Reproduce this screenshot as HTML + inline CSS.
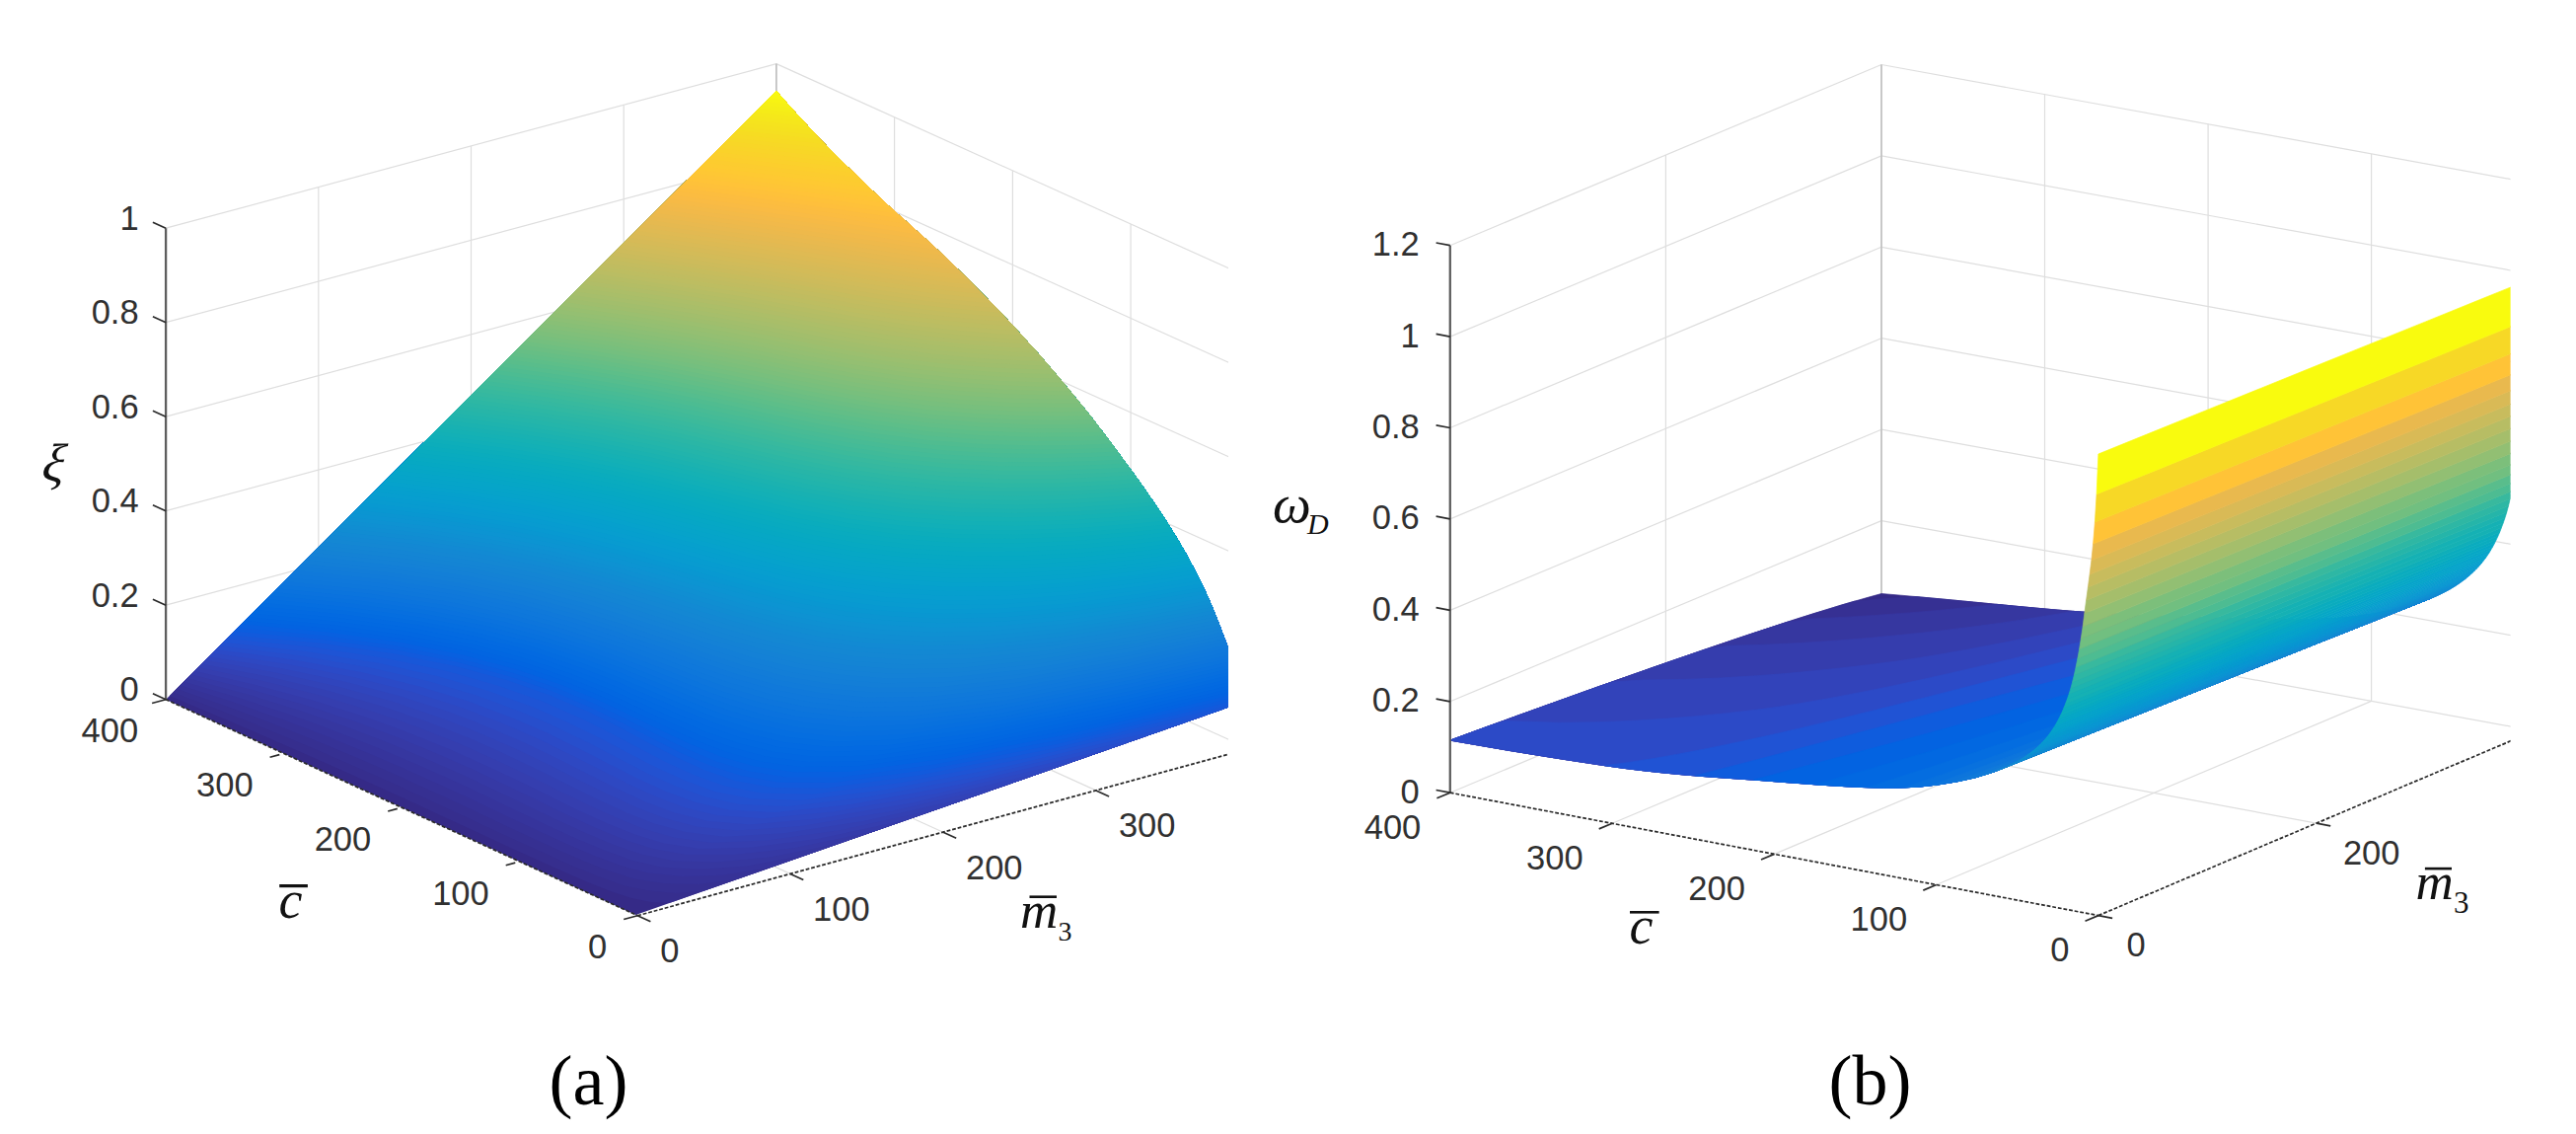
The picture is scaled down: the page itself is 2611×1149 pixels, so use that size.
<!DOCTYPE html>
<html lang="en"><head><meta charset="utf-8"><title>Figure</title>
<style>html,body{margin:0;padding:0;background:#fff}svg{display:block}</style></head>
<body>
<svg width="2611" height="1149" viewBox="0 0 2611 1149">
<rect width="2611" height="1149" fill="#fff"/>
<defs><clipPath id="ca"><rect x="0" y="0" width="1245" height="1149"/></clipPath><clipPath id="cb"><rect x="1300" y="0" width="1244.6" height="1149"/></clipPath></defs>
<g clip-path="url(#ca)">
<g stroke="#dedede" stroke-width="1.2" fill="none">
<path d="M168.1 613.2L786.9 446.6"/>
<path d="M786.9 446.6L1265.8 663.1"/>
<path d="M168.1 517.7L786.9 351.1"/>
<path d="M786.9 351.1L1265.8 567.6"/>
<path d="M168.1 422.2L786.9 255.6"/>
<path d="M786.9 255.6L1265.8 472.1"/>
<path d="M168.1 326.7L786.9 160.1"/>
<path d="M786.9 160.1L1265.8 376.6"/>
<path d="M168.1 231.2L786.9 64.6"/>
<path d="M786.9 64.6L1265.8 281.1"/>
<path d="M322.8 667.1L322.8 189.6"/>
<path d="M322.8 667.1L801.1 885.4"/>
<path d="M477.5 625.4L477.5 147.9"/>
<path d="M477.5 625.4L956 843.2"/>
<path d="M632.2 583.8L632.2 106.2"/>
<path d="M632.2 583.8L1110.9 800.9"/>
<path d="M786.9 542.1L1265.8 758.6"/>
<path d="M1146.1 704.5L1146.1 227"/>
<path d="M526.7 873L1146.1 704.5"/>
<path d="M1026.4 650.4L1026.4 172.9"/>
<path d="M407.2 818.2L1026.4 650.4"/>
<path d="M906.6 596.2L906.6 118.7"/>
<path d="M287.6 763.5L906.6 596.2"/>
<path d="M168.1 708.7L786.9 542.1"/>
</g>
<line x1="786.9" y1="542.1" x2="786.9" y2="64.6" stroke="#c2c2c2" stroke-width="1.8"/>
<clipPath id="oa"><polygon points="644.4,926.9 168.1,708.7 786.9,92.1 793.8,99.9 800.7,107.7 807.6,115.5 814.6,123.1 821.5,130.5 828.4,137.9 835.3,145 842.2,152.1 849.1,159 856,165.9 863,172.6 869.9,179.3 876.8,185.9 883.7,192.5 890.6,199 897.5,205.4 904.4,211.7 911.4,217.9 918.3,224.1 925.2,230.2 932.1,236.4 939,242.6 945.9,248.9 952.8,255.3 959.8,261.9 966.7,268.6 973.6,275.3 980.5,282.1 987.4,289 994.3,296 1001.3,303.1 1008.2,310.2 1015.1,317.5 1022,324.8 1028.9,332.2 1035.8,339.7 1042.7,347.4 1049.7,355.1 1056.6,363 1063.5,371 1070.4,379.1 1077.3,387.2 1084.2,395.5 1091.1,403.9 1098.1,412.5 1105,421.1 1111.9,430 1118.8,438.9 1125.7,448.1 1132.6,457.3 1139.5,466.7 1146.5,476.2 1153.4,485.8 1160.3,495.5 1167.2,505.5 1174.1,515.6 1181,526.1 1187.9,536.9 1194.9,548.3 1201.8,560.3 1208.7,572.9 1215.6,586.3 1222.5,600.6 1229.4,615.9 1236.3,633.4 1243.3,651.9 1250.2,668.2 1257.1,687.4 1264,710.2"/></clipPath>
<polygon points="644.4,926.9 168.1,708.7 786.9,92.1 793.8,99.9 800.7,107.7 807.6,115.5 814.6,123.1 821.5,130.5 828.4,137.9 835.3,145 842.2,152.1 849.1,159 856,165.9 863,172.6 869.9,179.3 876.8,185.9 883.7,192.5 890.6,199 897.5,205.4 904.4,211.7 911.4,217.9 918.3,224.1 925.2,230.2 932.1,236.4 939,242.6 945.9,248.9 952.8,255.3 959.8,261.9 966.7,268.6 973.6,275.3 980.5,282.1 987.4,289 994.3,296 1001.3,303.1 1008.2,310.2 1015.1,317.5 1022,324.8 1028.9,332.2 1035.8,339.7 1042.7,347.4 1049.7,355.1 1056.6,363 1063.5,371 1070.4,379.1 1077.3,387.2 1084.2,395.5 1091.1,403.9 1098.1,412.5 1105,421.1 1111.9,430 1118.8,438.9 1125.7,448.1 1132.6,457.3 1139.5,466.7 1146.5,476.2 1153.4,485.8 1160.3,495.5 1167.2,505.5 1174.1,515.6 1181,526.1 1187.9,536.9 1194.9,548.3 1201.8,560.3 1208.7,572.9 1215.6,586.3 1222.5,600.6 1229.4,615.9 1236.3,633.4 1243.3,651.9 1250.2,668.2 1257.1,687.4 1264,710.2" fill="#352a87"/>
<g clip-path="url(#oa)">
<polygon points="111.7,705.1 111.7,0 1400,0 1400,914.8 678.9,914.8 660.9,914.3 640.4,909.9 618.6,903 595.9,894 571.4,883.3 545,871.4 516.5,858.4 486.1,844.3 453.8,829.4 419.4,813.6 383.2,797.1 345,779.8 304.8,762 262.5,743.5 218.2,724.5 171.7,705.1" fill="#362e8e"/>
<polygon points="115.4,701.4 115.4,0 1400,0 1400,902.8 713.4,902.8 684.8,905.1 657.5,902.6 631.4,896.9 606.9,888.3 581.6,877.9 555,866.1 526.5,853 496.2,839 464,824 429.8,808.2 393.5,791.6 354.9,774.5 314,756.8 270.5,738.7 224.4,720.2 175.4,701.4" fill="#363092"/>
<polygon points="119,697.8 119,0 1400,0 1400,890.7 747.9,890.7 708.7,895.9 674.6,895.3 644.3,890.7 617.9,882.7 591.9,872.5 564.9,860.7 536.5,847.7 506.3,833.6 474.3,818.5 440.2,802.7 403.8,786.2 364.9,769.1 323.2,751.7 278.5,733.9 230.5,715.9 179,697.8" fill="#363297"/>
<polygon points="122.7,694.2 122.7,0 1400,0 1400,878.6 782.4,878.6 732.6,886.8 691.7,888 657.1,884.6 628.9,877 602.1,867 574.9,855.3 546.5,842.3 516.5,828.2 484.6,813.1 450.6,797.2 414.1,780.8 374.8,763.8 332.4,746.5 286.5,729.1 236.7,711.6 182.7,694.2" fill="#36349c"/>
<polygon points="126.3,690.6 126.3,0 1400,0 1400,866.6 816.9,866.6 756.6,877.6 708.8,880.7 670,878.4 639.9,871.4 612.3,861.6 584.9,850 556.4,837 526.6,822.8 494.9,807.6 461,791.8 424.4,775.3 384.8,758.5 341.6,741.4 294.5,724.3 242.8,707.3 186.3,690.6" fill="#3637a0"/>
<polygon points="129.9,686.9 129.9,0 1400,0 1400,854.5 851.3,854.5 780.5,868.4 725.9,873.4 682.8,872.3 651,865.7 622.5,856.2 594.8,844.6 566.4,831.6 536.7,817.4 505.2,802.2 471.4,786.3 434.7,769.9 394.7,753.1 350.9,736.3 302.4,719.5 249,703 189.9,686.9" fill="#3639a5"/>
<polygon points="133.6,683.3 133.6,0 1400,0 1400,842.5 885.8,842.5 804.4,859.3 742.9,866.1 695.7,866.1 662,860.1 632.8,850.8 604.8,839.3 576.4,826.2 546.8,812 515.5,796.8 481.8,780.8 445,764.4 404.7,747.8 360.1,731.1 310.4,714.7 255.1,698.7 193.6,683.3" fill="#353baa"/>
<polygon points="137.2,679.7 137.2,0 1400,0 1400,830.4 920.3,830.4 828.3,850.1 760,858.8 708.6,860 673,854.4 643,845.3 614.8,833.9 586.3,820.9 556.9,806.6 525.8,791.3 492.1,775.4 455.4,759 414.6,742.5 369.3,726 318.4,709.9 261.3,694.4 197.2,679.7" fill="#353eaf"/>
<polygon points="140.9,676.1 140.9,0 1400,0 1400,818.4 954.8,818.4 852.3,840.9 777.1,851.5 721.4,853.8 684,848.8 653.2,839.9 624.7,828.5 596.3,815.5 567,801.2 536,785.9 502.5,769.9 465.7,753.6 424.6,737.1 378.5,720.9 326.4,705.1 267.4,690.1 200.9,676.1" fill="#3340b3"/>
<polygon points="144.5,672.4 144.5,0 1400,0 1400,806.3 989.3,806.3 876.2,831.7 794.2,844.2 734.3,847.7 695,843.1 663.4,834.5 634.7,823.2 606.3,810.2 577.1,795.8 546.3,780.4 512.9,764.4 476,748.1 434.6,731.8 387.7,715.7 334.4,700.3 273.6,685.8 204.5,672.4" fill="#3243b8"/>
<polygon points="148.1,668.8 148.1,0 1400,0 1400,794.2 1023.8,794.2 900.1,822.6 811.3,836.9 747.1,841.5 706,837.5 673.7,829 644.7,817.8 616.3,804.8 587.2,790.4 556.6,775 523.3,759 486.3,742.7 444.5,726.4 396.9,710.6 342.4,695.5 279.7,681.5 208.1,668.8" fill="#3045bd"/>
<polygon points="151.8,665.2 151.8,0 1400,0 1400,782.2 1058.3,782.2 924,813.4 828.4,829.6 760,835.4 717,831.8 683.9,823.6 654.6,812.5 626.2,799.5 597.4,785 566.9,769.6 533.7,753.5 496.6,737.2 454.5,721.1 406.1,705.4 350.3,690.7 285.9,677.2 211.8,665.2" fill="#2e48c2"/>
<polygon points="155.4,661.5 155.4,0 1400,0 1400,770.1 1092.8,770.1 947.9,804.2 845.4,822.3 772.8,829.2 728,826.2 694.1,818.2 664.6,807.1 636.2,794.1 607.5,779.6 577.2,764.1 544.1,748.1 506.9,731.8 464.4,715.8 415.4,700.3 358.3,685.9 292.1,672.9 215.4,661.5" fill="#2b4ac7"/>
<polygon points="159.1,657.9 159.1,0 1400,0 1400,758.1 1127.3,758.1 971.9,795 862.5,815 785.7,823.1 739.1,820.5 704.3,812.7 674.6,801.8 646.2,788.7 617.6,774.2 587.5,758.7 554.5,742.6 517.2,726.4 474.4,710.4 424.6,695.2 366.3,681.1 298.2,668.5 219.1,657.9" fill="#274ecc"/>
<polygon points="162.7,654.3 162.7,0 1400,0 1400,746 1161.7,746 995.8,785.9 879.6,807.6 798.5,816.9 750.1,814.9 714.5,807.3 684.5,796.4 656.1,783.4 627.7,768.8 597.8,753.3 564.8,737.1 527.5,720.9 484.3,705.1 433.8,690 374.3,676.3 304.4,664.2 222.7,654.3" fill="#2351d0"/>
<polygon points="166.3,650.7 166.3,0 1400,0 1400,733.9 1196.2,733.9 1019.7,776.7 896.7,800.3 811.4,810.8 761.1,809.2 724.8,801.9 694.5,791 666.1,778 637.8,763.4 608.1,747.8 575.2,731.7 537.8,715.5 494.3,699.7 443,684.9 382.3,671.5 310.5,659.9 226.3,650.7" fill="#1e54d5"/>
<polygon points="170,647 170,0 1400,0 1400,721.9 1230.7,721.9 1043.6,767.5 913.8,793 824.2,804.6 772.1,803.6 735,796.4 704.5,785.7 676.1,772.7 647.9,758 618.3,742.4 585.6,726.2 548.1,710 504.2,694.4 452.2,679.8 390.2,666.7 316.7,655.6 230,647" fill="#1857d8"/>
<polygon points="173.6,643.4 173.6,0 1400,0 1400,710.1 1263.9,710.1 1066.5,758.6 930.4,785.8 836.8,798.5 782.9,798 745,791 714.2,780.3 685.8,767.3 657.8,752.7 628.4,737 595.7,720.8 558.2,704.7 513.9,689.1 461.2,674.7 398,661.9 322.7,651.3 233.6,643.4" fill="#125adc"/>
<polygon points="177.3,639.8 177.3,0 1400,0 1400,707 1262.9,707 1072,753.7 939.1,780 844.8,792.9 790,792.7 751.2,786.1 719.5,775.6 690.4,762.9 661.8,748.4 632,732.9 599,716.9 561.2,700.8 516.9,685.4 464.2,671 401.1,658.3 326,647.7 237.3,639.8" fill="#0c5dde"/>
<polygon points="180.9,636.2 180.9,0 1400,0 1400,703.9 1262,703.9 1081,747.9 948.7,774.2 853.4,787.4 797.4,787.5 757.6,781.1 725.1,771 695.2,758.5 666,744.2 635.7,728.9 602.4,713 564.4,697.1 519.9,681.7 467.2,667.4 404.2,654.7 329.3,644.1 240.9,636.2" fill="#0860e0"/>
<polygon points="184.5,632.5 184.5,0 1400,0 1400,700.9 1261.1,700.9 1090,742.2 958,768.4 861.9,781.8 804.7,782.3 763.9,776.3 730.6,766.4 700,754.1 670.2,740.1 639.4,724.9 605.8,709.1 567.5,693.3 522.9,678 470.2,663.8 407.3,651.1 332.6,640.6 244.5,632.5" fill="#0363e1"/>
<polygon points="188.2,628.9 188.2,0 1400,0 1400,697.9 1260.3,697.9 1098.8,736.6 966.7,762.8 870.2,776.3 812,777.1 770.2,771.4 736,761.8 704.7,749.7 674.4,735.9 643.2,720.8 609.2,705.2 570.7,689.5 525.9,674.3 473.2,660.1 410.4,647.5 335.9,637 248.2,628.9" fill="#0265e1"/>
<polygon points="191.8,625.3 191.8,0 1400,0 1400,694.8 1259.4,694.8 1107.1,731 974.7,757.3 878.3,770.9 819.1,772 776.4,766.5 741.4,757.1 709.4,745.3 678.5,731.7 646.8,716.8 612.5,701.3 573.8,685.8 529,670.6 476.2,656.5 413.5,643.9 339.2,633.4 251.8,625.3" fill="#0267e1"/>
<polygon points="195.5,621.6 195.5,0 1400,0 1400,691.8 1258.4,691.8 1114.8,725.6 982.2,752 886.1,765.5 826,766.8 782.5,761.6 746.7,752.5 714.1,740.9 682.6,727.5 650.5,712.8 615.9,697.4 576.9,682 532,666.9 479.2,652.9 416.6,640.3 342.5,629.8 255.5,621.6" fill="#0269e1"/>
<polygon points="199.1,618 199.1,0 1400,0 1400,688.7 1257.5,688.7 1122,720.3 989.1,746.8 893.6,760.2 832.8,761.7 788.5,756.8 752,747.9 718.7,736.5 686.7,723.3 654.1,708.8 619.2,693.5 580,678.2 534.9,663.3 482.2,649.2 419.6,636.7 345.8,626.2 259.1,618" fill="#036ae1"/>
<polygon points="202.7,614.4 202.7,0 1400,0 1400,685.6 1256.5,685.6 1128.7,715.1 995.5,741.7 900.8,754.9 839.4,756.7 794.4,751.9 757.1,743.3 723.2,732.2 690.7,719.1 657.7,704.7 622.4,689.6 583.1,674.4 537.9,659.5 485.1,645.6 422.7,633.1 349,622.6 262.7,614.4" fill="#046ce0"/>
<polygon points="206.4,610.8 206.4,0 1400,0 1400,682.5 1255.4,682.5 1134.8,710 1001.3,736.7 907.8,749.6 845.8,751.6 800.1,747.1 762.2,738.7 727.6,727.8 694.6,714.9 661.3,700.7 625.7,685.7 586.2,670.6 540.9,655.8 488.1,641.9 425.8,629.5 352.3,619 266.4,610.8" fill="#056ee0"/>
<polygon points="210,607.1 210,0 1400,0 1400,679.3 1254.4,679.3 1140.5,705.1 1006.8,731.8 914.4,744.5 852,746.6 805.8,742.3 767.1,734.1 732,723.4 698.5,710.7 664.8,696.6 628.9,681.8 589.2,666.8 543.8,652.1 491,638.3 428.8,625.9 355.6,615.4 270,607.1" fill="#076fdf"/>
<polygon points="213.7,603.5 213.7,0 1400,0 1400,676.2 1253.2,676.2 1145.8,700.2 1011.9,727 920.8,739.3 858.1,741.5 811.2,737.5 772,729.5 736.3,719 702.3,706.4 668.2,692.5 632.1,677.9 592.2,663 546.7,648.4 494,634.6 431.9,622.3 358.9,611.8 273.7,603.5" fill="#0871de"/>
<polygon points="217.3,599.9 217.3,0 1400,0 1400,673 1252,673 1150.6,695.4 1016.7,722.3 926.8,734.2 863.9,736.6 816.6,732.6 776.8,724.9 740.5,714.6 706.1,702.2 671.6,688.5 635.3,673.9 595.2,659.2 549.6,644.7 496.9,631 434.9,618.6 362.1,608.2 277.3,599.9" fill="#0a72de"/>
<polygon points="220.9,596.3 220.9,0 1400,0 1400,669.8 1250.8,669.8 1145.8,692.6 1007.4,719.8 918.3,730.3 855.8,731.1 807.8,725.7 766.4,716.5 728.3,704.7 691.4,690.9 653.3,675.8 612,660.2 565.3,644.7 511,629.9 446.7,616.6 370.6,605.2 280.9,596.3" fill="#0b74dd"/>
<polygon points="224.6,592.6 224.6,0 1400,0 1400,666.6 1249.5,666.6 1147.1,688.7 1012,715 923.8,725.3 861.2,726.2 812.7,720.9 770.7,712 732.1,700.4 694.9,686.7 656.5,671.8 615,656.4 568.1,641 513.9,626.2 449.7,612.9 373.8,601.6 284.6,592.6" fill="#0d75dc"/>
<polygon points="228.2,589 228.2,0 1400,0 1400,663.3 1248.2,663.3 1147,685.2 1016.2,710.3 929,720.4 866.3,721.3 817.5,716.2 775,707.5 735.9,696 698.3,682.5 659.6,667.8 617.9,652.5 571,637.2 516.7,622.5 452.7,609.3 377.1,598 288.2,589" fill="#0e77db"/>
<polygon points="231.9,585.4 231.9,0 1400,0 1400,660 1246.8,660 1145.7,681.9 1020.1,705.6 934,715.4 871.4,716.4 822.1,711.5 779.1,702.9 739.6,691.7 701.6,678.4 662.7,663.8 620.8,648.6 573.8,633.4 519.6,618.8 455.7,605.6 380.3,594.3 291.9,585.4" fill="#0f78db"/>
<polygon points="235.5,581.7 235.5,0 1400,0 1400,656.7 1245.4,656.7 1143.5,678.8 1023.5,701 938.6,710.6 876.2,711.5 826.6,706.8 783.1,698.4 743.2,687.3 704.9,674.2 665.7,659.8 623.7,644.7 576.5,629.6 522.4,615.1 458.6,602 383.5,590.7 295.5,581.7" fill="#1079da"/>
<polygon points="239.1,578.1 239.1,0 1400,0 1400,653.4 1243.9,653.4 1141.1,675.7 1026.7,696.5 943.1,705.7 880.8,706.7 830.9,702.1 787.1,693.9 746.8,683 708.1,670 668.7,655.7 626.5,640.8 579.3,625.8 525.2,611.4 461.6,598.3 386.7,587.1 299.1,578.1" fill="#117bd9"/>
<polygon points="242.8,574.5 242.8,0 1400,0 1400,650.2 1242.5,650.2 1140.6,672.3 1030.6,691.8 948,700.9 885.7,701.8 835.5,697.4 791.2,689.4 750.5,678.7 711.5,665.9 671.8,651.7 629.4,636.9 582.1,622 528,607.7 464.5,594.7 390,583.5 302.8,574.5" fill="#127cd8"/>
<polygon points="246.4,570.9 246.4,0 1400,0 1400,646.9 1241.3,646.9 1141.4,668.5 1035,687.1 953.1,696 890.8,697 840.1,692.7 795.3,684.9 754.3,674.4 714.9,661.7 674.9,647.7 632.3,633 585,618.3 530.9,604 467.5,591.1 393.2,579.9 306.4,570.9" fill="#137ed7"/>
<polygon points="250.1,567.2 250.1,0 1400,0 1400,643.8 1240.1,643.8 1143.2,664.5 1039.6,682.4 958.3,691.1 896,692.2 844.8,688.1 799.6,680.5 758.1,670.1 718.3,657.6 678.1,643.8 635.3,629.2 587.9,614.5 533.8,600.4 470.5,587.5 396.4,576.3 310.1,567.2" fill="#137fd7"/>
<polygon points="253.7,563.6 253.7,0 1400,0 1400,640.6 1238.9,640.6 1145.5,660.4 1044.4,677.7 963.6,686.3 901.1,687.5 849.6,683.5 803.8,676.1 761.9,665.9 721.8,653.5 681.3,639.8 638.3,625.4 590.7,610.8 536.7,596.7 473.5,583.8 399.7,572.7 313.7,563.6" fill="#1481d6"/>
<polygon points="257.3,560 257.3,0 1400,0 1400,637.4 1237.8,637.4 1148.2,656.2 1049.1,672.9 968.8,681.5 906.2,682.7 854.3,678.9 808,671.7 765.7,661.6 725.2,649.4 684.4,635.9 641.3,621.5 593.6,607.1 539.6,593 476.6,580.2 402.9,569.1 317.3,560" fill="#1482d5"/>
<polygon points="261,556.4 261,0 1400,0 1400,634.3 1236.6,634.3 1151.1,652 1053.7,668.2 974,676.7 911.3,678 858.9,674.3 812.2,667.2 769.5,657.4 728.7,645.3 687.6,631.9 644.3,617.7 596.5,603.3 542.5,589.4 479.6,576.6 406.2,565.5 321,556.4" fill="#1484d4"/>
<polygon points="264.6,552.7 264.6,0 1400,0 1400,631.1 1235.5,631.1 1153.9,647.7 1058.2,663.5 979,671.9 916.3,673.2 863.5,669.7 816.4,662.8 773.2,653.1 732.1,641.3 690.8,628 647.2,613.9 599.4,599.6 545.4,585.7 482.6,573 409.4,561.8 324.6,552.7" fill="#1485d4"/>
<polygon points="268.3,549.1 268.3,0 1400,0 1400,627.9 1234.3,627.9 1156.4,643.5 1062.5,658.9 983.9,667.1 921.1,668.5 868,665.2 820.4,658.4 776.9,648.9 735.5,637.2 693.9,624 650.2,610 602.2,595.8 548.2,582 485.6,569.3 412.7,558.2 328.3,549.1" fill="#1487d3"/>
<polygon points="271.9,545.5 271.9,0 1400,0 1400,624.7 1233,624.7 1158.7,639.4 1066.6,654.3 988.6,662.3 925.8,663.8 872.4,660.6 824.4,654 780.6,644.6 738.8,633.1 697,620 653.1,606.2 605.1,592.1 551.1,578.4 488.6,565.7 415.9,554.6 331.9,545.5" fill="#1388d3"/>
<polygon points="275.5,541.8 275.5,0 1400,0 1400,621.5 1231.8,621.5 1160.6,635.3 1070.3,649.7 993.1,657.6 930.4,659.1 876.6,656 828.3,649.6 784.1,640.4 742.1,629 700,616.1 656,602.3 607.9,588.3 554,574.7 491.5,562.1 419.1,551 335.5,541.8" fill="#128ad3"/>
<polygon points="279.2,538.2 279.2,0 1400,0 1400,618.2 1230.4,618.2 1162,631.3 1073.6,645.3 997.3,652.9 934.7,654.4 880.7,651.5 832.1,645.2 787.6,636.1 745.3,624.8 703,612.1 658.8,598.4 610.7,584.6 556.8,571 494.5,558.4 422.4,547.4 339.2,538.2" fill="#118cd2"/>
<polygon points="282.8,534.6 282.8,0 1400,0 1400,614.9 1229,614.9 1162.9,627.4 1076.6,640.8 1001.3,648.3 938.8,649.8 884.6,646.9 835.8,640.8 791,631.8 748.4,620.7 705.9,608.1 661.6,594.6 613.4,580.8 559.6,567.3 497.4,554.8 425.6,543.8 342.8,534.6" fill="#108ed2"/>
<polygon points="286.5,531 286.5,0 1400,0 1400,611.6 1227.5,611.6 1163.7,623.5 1079.4,636.4 1005.1,643.6 942.8,645.1 888.5,642.4 839.3,636.4 794.3,627.6 751.5,616.6 708.8,604.1 664.4,590.7 616.2,577 562.4,563.6 500.4,551.2 428.8,540.2 346.5,531" fill="#0f90d2"/>
<polygon points="290.1,527.3 290.1,0 1400,0 1400,608.3 1226,608.3 1164.4,619.6 1082.1,632 1008.7,639 946.7,640.5 892.2,637.9 842.8,632 797.6,623.3 754.5,612.5 711.7,600.1 667.1,586.8 618.9,573.2 565.2,559.9 503.3,547.5 432,536.6 350.1,527.3" fill="#0e92d2"/>
<polygon points="293.7,523.7 293.7,0 1400,0 1400,604.9 1224.5,604.9 1165,615.7 1084.6,627.6 1012.2,634.4 950.5,635.9 895.8,633.3 846.3,627.6 800.8,619 757.5,608.3 714.5,596.1 669.9,582.9 621.6,569.4 567.9,556.2 506.3,543.9 435.2,532.9 353.7,523.7" fill="#0c94d2"/>
<polygon points="297.4,520.1 297.4,0 1400,0 1400,601.6 1223,601.6 1165.4,611.8 1086.9,623.3 1015.6,629.8 954.1,631.3 899.4,628.8 849.6,623.2 804,614.8 760.5,604.2 717.3,592.1 672.6,579 624.3,565.6 570.7,552.5 509.2,540.2 438.4,529.3 357.4,520.1" fill="#0b95d1"/>
<polygon points="301,516.5 301,0 1400,0 1400,598.2 1221.4,598.2 1165.8,608 1089.1,618.9 1018.9,625.2 957.6,626.7 902.8,624.3 852.9,618.8 807.1,610.5 763.4,600 720.1,588.1 675.3,575.1 627,561.8 573.4,548.7 512.1,536.6 441.6,525.7 361,516.5" fill="#0997d1"/>
<polygon points="304.7,512.8 304.7,0 1400,0 1400,594.9 1219.8,594.9 1160.8,605 1080.8,615.8 1008.3,621.3 944.8,621.8 887.7,618.2 836,611.2 788.1,601.3 741.5,589.3 694.3,575.9 643.9,561.8 588.2,547.8 524.3,534.6 450.2,522.8 364.7,512.8" fill="#0899d1"/>
<polygon points="308.3,509.2 308.3,0 1400,0 1400,591.5 1218.1,591.5 1161.1,601.1 1082.9,611.4 1011.3,616.8 948.1,617.2 891,613.8 839.1,606.9 791,597.1 744.3,585.2 696.9,571.9 646.5,558 590.9,544 527.1,530.9 453.3,519.2 368.3,509.2" fill="#089bd0"/>
<polygon points="311.9,505.6 311.9,0 1400,0 1400,588.1 1216.5,588.1 1161.2,597.2 1084.9,607.1 1014.3,612.2 951.3,612.7 894.1,609.3 842.1,602.5 793.8,592.9 747,581.1 699.6,568 649.1,554.2 593.6,540.3 530,527.2 456.5,515.5 371.9,505.6" fill="#079cd0"/>
<polygon points="315.6,501.9 315.6,0 1400,0 1400,584.6 1214.8,584.6 1161.3,593.3 1086.8,602.8 1017.1,607.7 954.3,608.2 897.1,604.9 845,598.2 796.6,588.7 749.7,577.1 702.2,564 651.7,550.3 596.3,536.5 532.8,523.6 459.7,511.9 375.6,501.9" fill="#079ecf"/>
<polygon points="319.2,498.3 319.2,0 1400,0 1400,581.2 1213,581.2 1161.3,589.4 1088.6,598.4 1019.8,603.2 957.2,603.7 900,600.4 847.9,593.8 799.4,584.4 752.3,573 704.8,560.1 654.3,546.5 598.9,532.8 535.7,519.9 462.8,508.3 379.2,498.3" fill="#069fce"/>
<polygon points="322.9,494.7 322.9,0 1400,0 1400,577.8 1211.2,577.8 1161.1,585.5 1090.2,594.1 1022.3,598.7 960,599.1 902.9,596 850.7,589.5 802.1,580.2 755,568.9 707.3,556.1 656.8,542.6 601.6,529 538.5,516.2 466,504.6 382.9,494.7" fill="#06a0cd"/>
<polygon points="326.5,491.1 326.5,0 1400,0 1400,574.3 1209.4,574.3 1160.9,581.7 1091.7,589.8 1024.7,594.2 962.7,594.7 905.6,591.6 853.4,585.2 804.7,576 757.5,564.8 709.8,552.1 659.4,538.8 604.2,525.3 541.3,512.5 469.1,501 386.5,491.1" fill="#06a2cc"/>
<polygon points="330.1,487.4 330.1,0 1400,0 1400,570.8 1207.6,570.8 1160.6,577.8 1093.1,585.5 1026.9,589.7 965.3,590.2 908.3,587.1 856.1,580.8 807.3,571.8 760,560.7 712.3,548.2 661.9,534.9 606.8,521.5 544.1,508.8 472.3,497.4 390.1,487.4" fill="#06a3ca"/>
<polygon points="333.8,483.8 333.8,0 1400,0 1400,567.3 1205.7,567.3 1160.2,573.9 1094.3,581.2 1029,585.3 967.7,585.7 910.8,582.7 858.7,576.5 809.9,567.6 762.5,556.6 714.8,544.2 664.4,531 609.4,517.7 546.9,505.1 475.4,493.7 393.8,483.8" fill="#06a4c9"/>
<polygon points="337.4,480.2 337.4,0 1400,0 1400,563.8 1203.7,563.8 1159.7,570 1095.4,577 1031,580.8 970,581.2 913.3,578.3 861.2,572.2 812.3,563.3 765,552.5 717.2,540.2 666.8,527.2 612,514 549.7,501.5 478.5,490.1 397.4,480.2" fill="#06a5c8"/>
<polygon points="341.1,476.6 341.1,0 1400,0 1400,560.2 1201.8,560.2 1159.1,566.1 1096.4,572.7 1032.8,576.4 972.2,576.8 915.6,573.9 863.6,567.8 814.8,559.1 767.4,548.4 719.6,536.2 669.3,523.3 614.6,510.2 552.5,497.8 481.7,486.5 401.1,476.6" fill="#06a6c6"/>
<polygon points="344.7,472.9 344.7,0 1400,0 1400,556.7 1199.7,556.7 1158.5,562.2 1097.2,568.4 1034.5,572 974.2,572.3 917.9,569.5 866,563.5 817.1,554.9 769.7,544.3 721.9,532.2 671.7,519.4 617.1,506.4 555.3,494.1 484.8,482.8 404.7,472.9" fill="#06a7c5"/>
<polygon points="348.3,469.3 348.3,0 1400,0 1400,553.1 1197.7,553.1 1157.8,558.3 1097.9,564.2 1036,567.6 976.1,567.9 920.1,565.1 868.2,559.1 819.4,550.6 772,540.1 724.3,528.2 674.1,515.5 619.7,502.6 558,490.4 487.9,479.2 408.3,469.3" fill="#06a8c3"/>
<polygon points="352,465.7 352,0 1400,0 1400,549.5 1195.6,549.5 1157,554.4 1098.4,560 1037.3,563.2 977.9,563.5 922.1,560.7 870.4,554.8 821.6,546.4 774.3,536 726.5,524.2 676.4,511.6 622.2,498.8 560.8,486.7 491,475.5 412,465.7" fill="#07a9c2"/>
<polygon points="355.6,462 355.6,0 1400,0 1400,545.9 1193.4,545.9 1156,550.4 1098.8,555.7 1038.5,558.8 979.6,559.1 924.1,556.3 872.5,550.5 823.8,542.2 776.5,531.9 728.8,520.2 678.8,507.7 624.7,495 563.5,483 494.1,471.9 415.6,462" fill="#08aac0"/>
<polygon points="359.3,458.4 359.3,0 1400,0 1400,542.2 1191.2,542.2 1155,546.5 1099,551.5 1039.5,554.4 981.1,554.7 925.9,551.9 874.6,546.1 825.9,537.9 778.6,527.7 731,516.2 681.1,503.8 627.2,491.2 566.2,479.2 497.2,468.2 419.3,458.4" fill="#09abbf"/>
<polygon points="362.9,454.8 362.9,0 1400,0 1400,538.6 1189,538.6 1150,543 1090.1,547.9 1026.9,550.4 965.2,549.7 907.5,545.6 853.8,538.3 802.4,528.5 751.6,516.7 699,503.7 642.6,490.3 578.8,477.3 505.9,465.4 422.9,454.8" fill="#0aacbd"/>
<polygon points="366.5,451.2 366.5,0 1400,0 1400,534.9 1186.7,534.9 1148.8,539 1090.2,543.7 1027.7,546 966.5,545.3 909.2,541.2 855.7,534 804.5,524.3 753.7,512.6 701.2,499.8 644.9,486.4 581.4,473.6 509,461.7 426.5,451.2" fill="#0cadbb"/>
<polygon points="370.2,447.5 370.2,0 1400,0 1400,531.2 1184.3,531.2 1147.5,535 1090.1,539.4 1028.4,541.7 967.8,540.9 910.9,536.8 857.6,529.7 806.4,520 755.8,508.5 703.4,495.8 647.3,482.6 584.1,469.8 512,458 430.2,447.5" fill="#0eaeba"/>
<polygon points="373.8,443.9 373.8,0 1400,0 1400,527.4 1181.9,527.4 1146.1,531.1 1089.9,535.2 1028.9,537.3 968.9,536.5 912.4,532.4 859.3,525.4 808.3,515.8 757.8,504.4 705.6,491.9 649.7,478.8 586.7,466.1 515.1,454.4 433.8,443.9" fill="#11afb8"/>
<polygon points="377.5,440.3 377.5,0 1400,0 1400,523.7 1179.5,523.7 1144.7,527.1 1089.5,531 1029.4,533 970,532.1 913.9,528 861,521 810.2,511.6 759.8,500.3 707.7,487.9 652,474.9 589.3,462.4 518.1,450.7 437.5,440.3" fill="#13b0b6"/>
<polygon points="381.1,436.7 381.1,0 1400,0 1400,519.9 1177,519.9 1143.1,523.1 1089,526.8 1029.7,528.7 970.9,527.7 915.2,523.6 862.6,516.7 812,507.4 761.7,496.2 709.8,483.9 654.3,471 591.9,458.6 521.1,447 441.1,436.7" fill="#15b1b4"/>
<polygon points="384.7,433 384.7,0 1400,0 1400,516.1 1174.5,516.1 1141.4,519.1 1088.4,522.6 1029.8,524.3 971.7,523.3 916.5,519.3 864.2,512.4 813.7,503.2 763.6,492.1 711.8,479.9 656.6,467.2 594.5,454.9 524.2,443.4 444.7,433" fill="#18b1b2"/>
<polygon points="388.4,429.4 388.4,0 1400,0 1400,512.3 1171.9,512.3 1139.7,515.1 1087.6,518.4 1029.9,520 972.4,518.9 917.7,514.9 865.6,508.1 815.4,498.9 765.5,488 713.9,475.9 658.9,463.3 597.1,451.1 527.2,439.7 448.4,429.4" fill="#1bb2b0"/>
<polygon points="392,425.8 392,0 1400,0 1400,508.5 1169.3,508.5 1137.9,511.1 1086.8,514.2 1029.9,515.7 973.1,514.6 918.8,510.5 867.1,503.7 817,494.7 767.3,483.9 715.9,472 661.1,459.4 599.6,447.3 530.2,436 452,425.8" fill="#1eb3ae"/>
<polygon points="395.7,422.1 395.7,0 1400,0 1400,504.7 1166.6,504.7 1136,507.1 1085.8,510 1029.8,511.4 973.6,510.2 919.9,506.1 868.4,499.4 818.6,490.5 769.1,479.8 717.9,468 663.4,455.6 602.2,443.6 533.2,432.4 455.7,422.1" fill="#21b4ac"/>
<polygon points="399.3,418.5 399.3,0 1400,0 1400,500.8 1164,500.8 1134,503.1 1084.8,505.9 1029.6,507.1 974.1,505.8 920.9,501.7 869.7,495.1 820.2,486.2 770.8,475.7 719.9,464 665.6,451.7 604.7,439.8 536.2,428.7 459.3,418.5" fill="#24b5aa"/>
<polygon points="402.9,414.9 402.9,0 1400,0 1400,496.9 1161.3,496.9 1132,499.1 1083.6,501.7 1029.3,502.8 974.5,501.4 921.8,497.3 871,490.7 821.7,482 772.5,471.5 721.8,459.9 667.8,447.8 607.3,436.1 539.2,425 462.9,414.9" fill="#27b5a8"/>
<polygon points="406.6,411.3 406.6,0 1400,0 1400,493 1158.5,493 1126.4,495.3 1073.7,497.8 1015.3,498.3 957.3,495.9 901.4,490.5 847.6,482.3 794.7,471.9 740.8,459.9 683.9,446.9 620.3,434.2 548.2,422.2 466.6,411.3" fill="#2ab6a6"/>
<polygon points="410.2,407.6 410.2,0 1400,0 1400,489.1 1155.8,489.1 1124.3,491.3 1072.6,493.6 1015.1,494 957.7,491.5 902.4,486.1 848.9,478 796.3,467.7 742.7,455.8 686.1,443 622.8,430.4 551.1,418.5 470.2,407.6" fill="#2db7a4"/>
<polygon points="413.9,404 413.9,0 1400,0 1400,485.2 1153,485.2 1122.2,487.2 1071.4,489.4 1014.8,489.7 958.2,487.2 903.3,481.8 850.2,473.7 797.9,463.5 744.5,451.8 688.2,439.1 625.2,426.6 554,414.8 473.9,404" fill="#31b8a2"/>
<polygon points="417.5,400.4 417.5,0 1400,0 1400,481.3 1150.2,481.3 1120,483.2 1070.1,485.2 1014.5,485.3 958.6,482.8 904.1,477.4 851.4,469.4 799.4,459.3 746.2,447.7 690.2,435.2 627.6,422.8 557,411.1 477.5,400.4" fill="#35b8a0"/>
<polygon points="421.1,396.8 421.1,0 1400,0 1400,477.4 1147.3,477.4 1117.8,479.2 1068.9,481 1014.1,481 958.9,478.4 905,473 852.6,465.1 800.9,455.1 748,443.6 692.3,431.2 630.1,419 559.9,407.4 481.1,396.8" fill="#38b99e"/>
<polygon points="424.8,393.1 424.8,0 1400,0 1400,473.5 1144.5,473.5 1115.5,475.1 1067.5,476.8 1013.6,476.7 959.2,474 905.7,468.6 853.8,460.8 802.3,450.9 749.8,439.6 694.4,427.3 632.5,415.2 562.9,403.8 484.8,393.1" fill="#3cba9b"/>
<polygon points="428.4,389.5 428.4,0 1400,0 1400,469.5 1141.6,469.5 1113.2,471 1066.2,472.5 1013.2,472.3 959.4,469.6 906.5,464.3 854.9,456.5 803.8,446.7 751.5,435.5 696.4,423.4 634.9,411.4 565.8,400.1 488.4,389.5" fill="#40ba99"/>
<polygon points="432.1,385.9 432.1,0 1400,0 1400,465.6 1138.7,465.6 1110.9,467 1064.8,468.3 1012.7,468 959.6,465.2 907.2,459.9 856,452.2 805.2,442.6 753.2,431.4 698.4,419.5 637.3,407.6 568.7,396.4 492.1,385.9" fill="#44bb97"/>
<polygon points="435.7,382.2 435.7,0 1400,0 1400,461.6 1135.8,461.6 1108.6,462.9 1063.4,464.1 1012.1,463.6 959.7,460.8 907.8,455.5 857.1,447.9 806.6,438.4 754.9,427.4 700.4,415.5 639.7,403.8 571.6,392.7 495.7,382.2" fill="#48bb95"/>
<polygon points="439.3,378.6 439.3,0 1400,0 1400,457.6 1132.9,457.6 1106.3,458.8 1061.9,459.9 1011.5,459.3 959.8,456.4 908.4,451.2 858.1,443.6 807.9,434.2 756.6,423.3 702.4,411.6 642.1,400 574.6,389 499.3,378.6" fill="#4cbc92"/>
<polygon points="443,375 443,0 1400,0 1400,453.6 1129.9,453.6 1100.4,454.8 1051.6,455.6 997,454.3 941.2,450.4 886.2,443.7 832,434.4 777,423.3 719.6,410.8 655.8,398.3 583.9,386.3 503,375" fill="#50bc90"/>
<polygon points="446.6,371.4 446.6,0 1400,0 1400,449.6 1126.9,449.6 1098,450.7 1050.2,451.4 996.5,450 941.4,446 887,439.3 833.1,430.2 778.5,419.1 721.5,406.8 658.1,394.5 586.7,382.5 506.6,371.4" fill="#55bd8e"/>
<polygon points="450.3,367.7 450.3,0 1400,0 1400,445.6 1123.9,445.6 1095.6,446.6 1048.8,447.1 995.9,445.6 941.5,441.6 887.6,434.9 834.2,425.9 779.9,415 723.3,402.9 660.4,390.6 589.6,378.8 510.3,367.7" fill="#59bd8b"/>
<polygon points="453.9,364.1 453.9,0 1400,0 1400,441.6 1120.8,441.6 1093.2,442.4 1047.3,442.8 995.3,441.2 941.6,437.2 888.3,430.6 835.3,421.6 781.4,410.9 725.2,398.9 662.6,386.8 592.4,375.1 513.9,364.1" fill="#5dbe89"/>
<polygon points="457.5,360.5 457.5,0 1400,0 1400,437.5 1117.7,437.5 1090.7,438.3 1045.8,438.5 994.6,436.8 941.6,432.8 888.9,426.2 836.3,417.4 782.8,406.8 727,394.9 664.9,383 595.3,371.4 517.5,360.5" fill="#62be87"/>
<polygon points="461.2,356.9 461.2,0 1400,0 1400,433.5 1114.6,433.5 1088.2,434.1 1044.2,434.2 993.9,432.5 941.6,428.4 889.4,421.9 837.3,413.1 784.2,402.6 728.8,390.9 667.1,379.1 598.1,367.7 521.2,356.9" fill="#66be85"/>
<polygon points="464.8,353.2 464.8,0 1400,0 1400,429.4 1111.4,429.4 1085.6,430 1042.5,429.9 993.1,428.1 941.5,424 889.9,417.5 838.2,408.8 785.6,398.5 730.5,386.9 669.3,375.3 600.9,364 524.8,353.2" fill="#6bbe83"/>
<polygon points="468.5,349.6 468.5,0 1400,0 1400,425.3 1108.2,425.3 1083.1,425.8 1040.8,425.6 992.2,423.7 941.4,419.6 890.4,413.1 839.1,404.6 786.9,394.3 732.3,382.9 671.5,371.5 603.7,360.3 528.5,349.6" fill="#6fbf81"/>
<polygon points="472.1,346 472.1,0 1400,0 1400,421.2 1105,421.2 1080.4,421.6 1039.1,421.2 991.3,419.3 941.1,415.2 890.7,408.8 840,400.3 788.3,390.2 734,378.9 673.7,367.6 606.5,356.6 532.1,346" fill="#74bf7f"/>
<polygon points="475.7,342.3 475.7,0 1400,0 1400,417.1 1101.7,417.1 1077.7,417.3 1037.3,416.9 990.3,414.9 940.9,410.7 891.1,404.4 840.8,396 789.6,386 735.7,374.9 675.9,363.8 609.4,352.8 535.7,342.3" fill="#78bf7d"/>
<polygon points="479.4,338.7 479.4,0 1400,0 1400,412.9 1098.4,412.9 1071.5,413.1 1026.5,412.3 974.7,409.4 920.9,404 866.6,396.1 811.3,386 753.9,374.2 690.4,362.1 619.1,350.2 539.4,338.7" fill="#7cbf7b"/>
<polygon points="483,335.1 483,0 1400,0 1400,408.8 1095.1,408.8 1068.8,408.8 1024.7,407.9 973.8,405 920.8,399.6 867.1,391.7 812.3,381.8 755.5,370.2 692.4,358.2 621.8,346.5 543,335.1" fill="#80bf7a"/>
<polygon points="486.7,331.5 486.7,0 1400,0 1400,404.6 1091.7,404.6 1066,404.6 1022.8,403.5 972.8,400.6 920.6,395.2 867.5,387.4 813.3,377.5 757,366.1 694.4,354.3 624.5,342.7 546.7,331.5" fill="#84bf78"/>
<polygon points="490.3,327.8 490.3,0 1400,0 1400,400.4 1088.2,400.4 1063.2,400.3 1020.9,399.2 971.8,396.1 920.4,390.7 867.9,383 814.2,373.3 758.4,362 696.4,350.4 627.2,339 550.3,327.8" fill="#88bf76"/>
<polygon points="493.9,324.2 493.9,0 1400,0 1400,396.2 1084.8,396.2 1060.3,396 1018.9,394.8 970.7,391.7 920.1,386.3 868.2,378.7 815.2,369 759.9,357.9 698.4,346.5 629.9,335.2 553.9,324.2" fill="#8cbf75"/>
<polygon points="497.6,320.6 497.6,0 1400,0 1400,391.9 1081.2,391.9 1057.4,391.7 1016.8,390.4 969.5,387.2 919.7,381.8 868.5,374.3 816.1,364.8 761.3,353.8 700.4,342.6 632.6,331.5 557.6,320.6" fill="#90bf73"/>
<polygon points="501.2,316.9 501.2,0 1400,0 1400,387.6 1077.7,387.6 1054.3,387.3 1014.6,385.9 968.3,382.7 919.2,377.4 868.7,369.9 816.9,360.5 762.6,349.8 702.3,338.7 635.3,327.7 561.2,316.9" fill="#94bf72"/>
<polygon points="504.9,313.3 504.9,0 1400,0 1400,383.4 1074.1,383.4 1051.3,383 1012.4,381.5 967,378.3 918.8,372.9 868.9,365.5 817.7,356.3 764,345.7 704.2,334.8 637.9,324 564.9,313.3" fill="#97bf70"/>
<polygon points="508.5,309.7 508.5,0 1400,0 1400,379.1 1070.4,379.1 1044.5,378.5 1000.7,376.5 950.1,372.2 896.5,365.4 841.1,356.3 783.6,345.1 719.8,333.3 648.2,321.4 568.5,309.7" fill="#9bbf6f"/>
<polygon points="512.1,306.1 512.1,0 1400,0 1400,374.8 1066.7,374.8 1041.4,374.1 998.6,372 949,367.7 896.3,361 841.6,351.9 784.7,340.9 721.5,329.3 650.8,317.7 572.1,306.1" fill="#9fbe6d"/>
<polygon points="515.8,302.4 515.8,0 1400,0 1400,370.4 1063,370.4 1038.3,369.7 996.5,367.6 947.9,363.2 896,356.5 842,347.6 785.8,336.8 723.3,325.4 653.3,313.9 575.8,302.4" fill="#a2be6c"/>
<polygon points="519.4,298.8 519.4,0 1400,0 1400,366.1 1059.3,366.1 1035.2,365.3 994.4,363.1 946.7,358.7 895.6,352.1 842.4,343.2 786.9,332.6 725,321.4 655.9,310.1 579.4,298.8" fill="#a6be6b"/>
<polygon points="523.1,295.2 523.1,0 1400,0 1400,361.7 1055.5,361.7 1032,360.9 992.1,358.5 945.4,354.2 895.1,347.6 842.8,338.9 787.9,328.4 726.6,317.5 658.4,306.3 583.1,295.2" fill="#a9be69"/>
<polygon points="526.7,291.6 526.7,0 1400,0 1400,357.3 1051.6,357.3 1028.8,356.4 989.9,354 944,349.6 894.7,343.1 843.1,334.5 788.8,324.3 728.3,313.5 660.9,302.6 586.7,291.6" fill="#acbe68"/>
<polygon points="530.3,287.9 530.3,0 1400,0 1400,352.9 1047.7,352.9 1025.5,352 987.5,349.5 942.6,345.1 894.1,338.6 843.4,330.1 789.8,320.1 729.9,309.5 663.4,298.8 590.3,287.9" fill="#b0bd67"/>
<polygon points="534,284.3 534,0 1400,0 1400,348.5 1043.7,348.5 1022.1,347.5 985.1,344.9 941.1,340.5 893.5,334.1 843.6,325.8 790.7,315.9 731.5,305.6 665.9,295 594,284.3" fill="#b3bd65"/>
<polygon points="537.6,280.7 537.6,0 1400,0 1400,344 1039.7,344 1014.7,342.7 972.3,339.4 922.4,333.8 868.5,325.7 811.7,315.4 748.2,304.1 676.9,292.5 597.6,280.7" fill="#b6bd64"/>
<polygon points="541.3,277 541.3,0 1400,0 1400,339.5 1035.6,339.5 1011.4,338.2 970,334.8 921.1,329.3 868.2,321.3 812.3,311.1 749.6,300.1 679.2,288.7 601.3,277" fill="#babd63"/>
<polygon points="544.9,273.4 544.9,0 1400,0 1400,335 1031.5,335 1007.9,333.6 967.6,330.2 919.7,324.7 867.9,316.8 812.8,306.8 750.9,296 681.5,284.9 604.9,273.4" fill="#bdbd61"/>
<polygon points="548.5,269.8 548.5,0 1400,0 1400,330.5 1027.3,330.5 1004.4,329 965.1,325.6 918.3,320.1 867.5,312.3 813.2,302.5 752.1,292 683.9,281 608.5,269.8" fill="#c0bc60"/>
<polygon points="552.2,266.2 552.2,0 1400,0 1400,325.9 1023,325.9 1000.8,324.4 962.5,321 916.7,315.5 867,307.8 813.6,298.2 753.4,287.9 686.2,277.2 612.2,266.2" fill="#c3bc5f"/>
<polygon points="555.8,262.5 555.8,0 1400,0 1400,321.3 1018.7,321.3 997.1,319.7 959.8,316.3 915.1,310.8 866.5,303.2 813.9,293.9 754.5,283.9 688.4,273.4 615.8,262.5" fill="#c6bc5d"/>
<polygon points="559.5,258.9 559.5,0 1400,0 1400,316.7 1014.3,316.7 993.3,315.1 957,311.6 913.5,306.2 865.9,298.7 814.2,289.6 755.7,279.8 690.7,269.6 619.5,258.9" fill="#cabb5c"/>
<polygon points="563.1,255.3 563.1,0 1400,0 1400,312 1009.9,312 985.1,310 942.6,305.6 892.2,298.6 836.9,289.1 773.9,278.5 702.5,267.2 623.1,255.3" fill="#cdbb5b"/>
<polygon points="566.7,251.7 566.7,0 1400,0 1400,307.3 1005.4,307.3 981.3,305.3 940.1,300.9 890.9,294 836.7,284.7 774.7,274.3 704.5,263.3 626.7,251.7" fill="#d0bb5a"/>
<polygon points="570.4,248 570.4,0 1400,0 1400,302.6 1000.8,302.6 977.5,300.5 937.4,296.1 889.6,289.3 836.5,280.3 775.4,270.2 706.6,259.4 630.4,248" fill="#d3bb58"/>
<polygon points="574,244.4 574,0 1400,0 1400,297.9 996.2,297.9 973.6,295.8 934.7,291.4 888.2,284.6 836.1,275.8 776.2,266 708.6,255.5 634,244.4" fill="#d6ba57"/>
<polygon points="577.7,240.8 577.7,0 1400,0 1400,293.1 991.4,293.1 969.6,291 931.9,286.6 886.7,279.9 835.7,271.3 776.8,261.8 710.6,251.6 637.7,240.8" fill="#d9ba56"/>
<polygon points="581.3,237.1 581.3,0 1400,0 1400,288.3 986.7,288.3 965.6,286.2 929,281.8 885.2,275.2 835.2,266.9 777.4,257.7 712.6,247.7 641.3,237.1" fill="#dcba54"/>
<polygon points="584.9,233.5 584.9,0 1400,0 1400,283.4 981.8,283.4 961.5,281.3 926.1,277 883.6,270.5 834.6,262.4 778,253.5 714.6,243.8 644.9,233.5" fill="#dfba53"/>
<polygon points="588.6,229.9 588.6,0 1400,0 1400,278.6 976.9,278.6 952.3,275.9 910,270.2 858.8,261.9 797.7,252.3 727.3,241.5 648.6,229.9" fill="#e2b952"/>
<polygon points="592.2,226.3 592.2,0 1400,0 1400,273.7 971.9,273.7 948.2,271 907.5,265.4 857.5,257.3 797.7,248 728.9,237.6 652.2,226.3" fill="#e5b950"/>
<polygon points="595.9,222.6 595.9,0 1400,0 1400,268.7 966.8,268.7 944,266 904.8,260.5 856.1,252.7 797.7,243.6 730.6,233.6 655.9,222.6" fill="#e8b94f"/>
<polygon points="599.5,219 599.5,0 1400,0 1400,263.7 961.7,263.7 939.7,261.1 902.1,255.5 854.6,248 797.6,239.3 732.2,229.6 659.5,219" fill="#ebb94d"/>
<polygon points="603.1,215.4 603.1,0 1400,0 1400,258.7 956.4,258.7 935.5,256 899.2,250.6 853,243.4 797.4,235 733.7,225.7 663.1,215.4" fill="#eeb94b"/>
<polygon points="606.8,211.8 606.8,0 1400,0 1400,253.6 951.1,253.6 925,250.1 879.3,243 819.7,234 748.2,223.5 666.8,211.8" fill="#f1b94a"/>
<polygon points="610.4,208.1 610.4,0 1400,0 1400,248.5 945.5,248.5 920.7,244.9 876.5,238.1 818.6,229.5 749.3,219.5 670.4,208.1" fill="#f3ba48"/>
<polygon points="614.1,204.5 614.1,0 1400,0 1400,243.2 939.7,243.2 916,239.7 873.4,233.2 817.3,225 750.3,215.4 674.1,204.5" fill="#f6ba46"/>
<polygon points="617.7,200.9 617.7,0 1400,0 1400,237.9 933.8,237.9 911.2,234.5 870,228.3 815.9,220.4 751.2,211.3 677.7,200.9" fill="#f9bb44"/>
<polygon points="621.3,197.2 621.3,0 1400,0 1400,232.5 927.8,232.5 906.2,229.3 866.5,223.3 814.4,215.8 752.1,207.1 681.3,197.2" fill="#fbbc41"/>
<polygon points="625,193.6 625,0 1400,0 1400,227.1 921.7,227.1 901,224 862.8,218.4 812.8,211.3 752.9,203 685,193.6" fill="#fcbd3f"/>
<polygon points="628.6,190 628.6,0 1400,0 1400,221.7 915.6,221.7 887.9,217.6 836.4,210.3 768.9,200.9 688.6,190" fill="#febf3c"/>
<polygon points="632.3,186.4 632.3,0 1400,0 1400,216.4 909.6,216.4 883,212.5 833.7,205.5 769.1,196.7 692.3,186.4" fill="#fec13a"/>
<polygon points="635.9,182.7 635.9,0 1400,0 1400,211.1 903.7,211.1 878.2,207.4 831.1,200.8 769.4,192.5 695.9,182.7" fill="#ffc338"/>
<polygon points="639.5,179.1 639.5,0 1400,0 1400,205.8 898,205.8 873.6,202.4 828.6,196.2 769.7,188.3 699.5,179.1" fill="#fec536"/>
<polygon points="643.2,175.5 643.2,0 1400,0 1400,200.6 892.4,200.6 869.1,197.4 826.2,191.5 770,184.2 703.2,175.5" fill="#fec734"/>
<polygon points="646.8,171.9 646.8,0 1400,0 1400,195.5 886.9,195.5 852.8,190.8 789.6,182.5 706.8,171.9" fill="#fec932"/>
<polygon points="650.5,168.2 650.5,0 1400,0 1400,190.4 881.5,190.4 849.1,186 789.1,178.2 710.5,168.2" fill="#fdcb30"/>
<polygon points="654.1,164.6 654.1,0 1400,0 1400,185.4 876.2,185.4 845.5,181.2 788.6,173.9 714.1,164.6" fill="#fccc2f"/>
<polygon points="657.7,161 657.7,0 1400,0 1400,180.3 870.9,180.3 841.9,176.5 788.1,169.7 717.7,161" fill="#fcce2d"/>
<polygon points="661.4,157.3 661.4,0 1400,0 1400,175.4 865.8,175.4 838.4,171.8 787.7,165.4 721.4,157.3" fill="#fbd02c"/>
<polygon points="665,153.7 665,0 1400,0 1400,170.4 860.7,170.4 835,167.1 787.3,161.2 725,153.7" fill="#fad22a"/>
<polygon points="668.7,150.1 668.7,0 1400,0 1400,165.5 855.7,165.5 831.6,162.4 786.9,157 728.7,150.1" fill="#f9d429"/>
<polygon points="672.3,146.5 672.3,0 1400,0 1400,160.6 850.8,160.6 828.3,157.8 786.6,152.8 732.3,146.5" fill="#f8d627"/>
<polygon points="675.9,142.8 675.9,0 1400,0 1400,155.8 845.9,155.8 825.1,153.2 786.3,148.7 735.9,142.8" fill="#f7d826"/>
<polygon points="679.6,139.2 679.6,0 1400,0 1400,151 841.2,151 821.9,148.7 786.1,144.5 739.6,139.2" fill="#f7da24"/>
<polygon points="683.2,135.6 683.2,0 1400,0 1400,146.2 836.5,146.2 818.8,144.1 785.9,140.4 743.2,135.6" fill="#f6dc22"/>
<polygon points="686.9,132 686.9,0 1400,0 1400,141.5 831.9,141.5 815.7,139.6 785.7,136.3 746.9,132" fill="#f5df21"/>
<polygon points="690.5,128.3 690.5,0 1400,0 1400,136.9 827.4,136.9 812.7,135.2 785.6,132.2 750.5,128.3" fill="#f5e11f"/>
<polygon points="694.1,124.7 694.1,0 1400,0 1400,132.2 823.1,132.2 809.9,130.8 785.6,128.1 754.1,124.7" fill="#f5e31e"/>
<polygon points="697.8,121.1 697.8,0 1400,0 1400,127.7 818.8,127.7 807.1,126.4 785.6,124.1 757.8,121.1" fill="#f5e61c"/>
<polygon points="701.4,117.4 701.4,0 1400,0 1400,123.1 814.6,123.1 804.4,122 785.7,120 761.4,117.4" fill="#f5e81a"/>
<polygon points="705.1,113.8 705.1,0 1400,0 1400,118.6 810.5,118.6 801.8,117.7 785.8,116 765.1,113.8" fill="#f5eb18"/>
<polygon points="708.7,110.2 708.7,0 1400,0 1400,114.1 806.4,114.1 799.2,113.4 785.9,112 768.7,110.2" fill="#f5ee17"/>
<polygon points="712.3,106.6 712.3,0 1400,0 1400,109.7 802.5,109.7 796.6,109.1 786.1,108 772.3,106.6" fill="#f6f015"/>
<polygon points="716,102.9 716,0 1400,0 1400,105.2 798.5,105.2 794.2,104.8 786.2,104 776,102.9" fill="#f7f313"/>
<polygon points="719.6,99.3 719.6,0 1400,0 1400,100.8 794.6,100.8 791.7,100.5 786.4,100 779.6,99.3" fill="#f8f611"/>
<polygon points="723.3,95.7 723.3,0 1400,0 1400,96.4 790.7,96.4 789.3,96.3 786.7,96 783.3,95.7" fill="#f8f90f"/>
</g>
<line x1="168.1" y1="708.7" x2="168.1" y2="231.2" stroke="#5e5e5e" stroke-width="2.3"/>
<line x1="168.1" y1="708.7" x2="646.2" y2="927.7" stroke="#2b2b2b" stroke-width="1.7" stroke-dasharray="3.8 1.9"/>
<line x1="646.2" y1="927.7" x2="1265.8" y2="758.6" stroke="#2b2b2b" stroke-width="1.7" stroke-dasharray="3.8 1.9"/>
<g font-family="'Liberation Sans',sans-serif" font-size="34.5" fill="#303030">
<line x1="168.1" y1="708.7" x2="154.9" y2="702.7" stroke="#2b2b2b" stroke-width="1.7"/>
<text x="140.6" y="710" text-anchor="end">0</text>
<line x1="168.1" y1="613.2" x2="154.9" y2="607.2" stroke="#2b2b2b" stroke-width="1.7"/>
<text x="140.6" y="614.5" text-anchor="end">0.2</text>
<line x1="168.1" y1="517.7" x2="154.9" y2="511.7" stroke="#2b2b2b" stroke-width="1.7"/>
<text x="140.6" y="519" text-anchor="end">0.4</text>
<line x1="168.1" y1="422.2" x2="154.9" y2="416.2" stroke="#2b2b2b" stroke-width="1.7"/>
<text x="140.6" y="423.5" text-anchor="end">0.6</text>
<line x1="168.1" y1="326.7" x2="154.9" y2="320.7" stroke="#2b2b2b" stroke-width="1.7"/>
<text x="140.6" y="328" text-anchor="end">0.8</text>
<line x1="168.1" y1="231.2" x2="154.9" y2="225.2" stroke="#2b2b2b" stroke-width="1.7"/>
<text x="140.6" y="232.5" text-anchor="end">1</text>
<line x1="646.2" y1="927.7" x2="632.2" y2="931.5" stroke="#2b2b2b" stroke-width="1.7"/>
<text x="615.2" y="971.2" text-anchor="end">0</text>
<line x1="522.3" y1="874.1" x2="512.7" y2="876.8" stroke="#2b2b2b" stroke-width="1.7"/>
<text x="495.7" y="916.5" text-anchor="end">100</text>
<line x1="402.8" y1="819.4" x2="393.2" y2="822" stroke="#2b2b2b" stroke-width="1.7"/>
<text x="376.2" y="861.7" text-anchor="end">200</text>
<line x1="283.3" y1="764.6" x2="273.6" y2="767.3" stroke="#2b2b2b" stroke-width="1.7"/>
<text x="256.6" y="807" text-anchor="end">300</text>
<line x1="168.1" y1="708.7" x2="154.1" y2="712.5" stroke="#2b2b2b" stroke-width="1.7"/>
<text x="140.1" y="752.2" text-anchor="end">400</text>
<line x1="646.2" y1="927.7" x2="659.4" y2="933.7" stroke="#2b2b2b" stroke-width="1.7"/>
<text x="669.2" y="975.2" text-anchor="start">0</text>
<line x1="801.1" y1="885.4" x2="814.3" y2="891.5" stroke="#2b2b2b" stroke-width="1.7"/>
<text x="824.1" y="932.9" text-anchor="start">100</text>
<line x1="956" y1="843.2" x2="969.2" y2="849.2" stroke="#2b2b2b" stroke-width="1.7"/>
<text x="979" y="890.7" text-anchor="start">200</text>
<line x1="1110.9" y1="800.9" x2="1124.1" y2="806.9" stroke="#2b2b2b" stroke-width="1.7"/>
<text x="1133.9" y="848.4" text-anchor="start">300</text>
</g>
</g>
<g clip-path="url(#cb)">
<g stroke="#dedede" stroke-width="1.2" fill="none">
<path d="M1469.8 710.8L1907 527.6"/>
<path d="M1907 527.6L2569.1 648.1"/>
<path d="M1469.8 618.4L1907 435.2"/>
<path d="M1907 435.2L2569.1 555.7"/>
<path d="M1469.8 525.9L1907 342.7"/>
<path d="M1907 342.7L2569.1 463.3"/>
<path d="M1469.8 433.5L1907 250.3"/>
<path d="M1907 250.3L2569.1 370.8"/>
<path d="M1469.8 341.1L1907 157.9"/>
<path d="M1907 157.9L2569.1 278.4"/>
<path d="M1469.8 248.7L1907 65.5"/>
<path d="M1907 65.5L2569.1 186"/>
<path d="M1688.4 711.6L1688.4 157.1"/>
<path d="M1688.4 711.6L2348 834.1"/>
<path d="M1907 620L2569.1 740.5"/>
<path d="M2403.6 710.4L2403.6 155.9"/>
<path d="M1962.6 896.5L2403.6 710.4"/>
<path d="M2238.1 680.3L2238.1 125.7"/>
<path d="M1798.4 865.4L2238.1 680.3"/>
<path d="M2072.5 650.1L2072.5 95.6"/>
<path d="M1634.1 834.3L2072.5 650.1"/>
<path d="M1469.8 803.2L1907 620"/>
</g>
<line x1="1907" y1="620" x2="1907" y2="65.5" stroke="#c2c2c2" stroke-width="1.8"/>
<g stroke-width="0.7" stroke-linejoin="round">
<polygon points="1469.8,750.1 1483.5,745.1 1497.1,740.1 1510.8,735.1 1524.5,730.2 1538.1,725.2 1551.8,720.3 1565.4,715.4 1579.1,710.5 1592.8,705.6 1606.4,700.7 1620.1,695.8 1633.8,691 1647.4,686.2 1661.1,681.4 1674.7,676.6 1688.4,671.8 1702.1,667.1 1715.7,662.4 1729.4,657.7 1743.1,653 1756.7,648.4 1770.4,643.8 1784,639.3 1797.7,634.8 1811.4,630.3 1825,625.9 1838.7,621.6 1852.4,617.4 1866,613.2 1879.7,609.2 1893.3,605.3 1907,601.5 1926.9,603.2 1946.7,605 1966.6,606.8 1986.4,608.7 2006.3,610.6 2026.1,612.6 2046,614.5 2065.8,616.3 2085.7,618.1 2105.5,619.7 2125.4,621.1 2145.2,622.3 2165.1,623.3 2184.9,624.1 2204.8,624.8 2224.6,625.4 2244.5,626.2 2264.3,626.8 2284.2,627.4 2304,627.8 2323.9,627.9 2343.7,627.6 2363.6,626.9 2383.4,625.3 2403.3,622.5 2423.1,618.6 2443,613.5 2462.8,606.6 2435.2,617.5 2407.7,628.5 2380.1,639.4 2352.5,650.3 2324.9,661.3 2297.3,672.2 2269.7,683.1 2242.1,694.1 2214.5,705.1 2187,716 2159.4,727 2131.8,737.9 2104.2,748.9 2076.6,759.9 2049,770.9 2021.4,781.8 2001.7,787.9 1982,792.1 1962.3,795.2 1942.6,797.3 1922.9,798 1903.2,798 1883.5,797.4 1863.8,796.3 1844.1,795.1 1824.4,793.6 1804.7,792.2 1785,790.6 1765.3,789.3 1745.6,787.9 1725.9,786.5 1706.2,784.9 1686.5,783 1666.8,780.9 1647.1,778.5 1627.4,775.8 1607.7,772.8 1588,769.8 1568.3,766.7 1548.6,763.5 1528.9,760.3 1509.2,756.9 1489.5,753.5" fill="#352a87" stroke="#352a87"/>
<polygon points="1469.8,750.1 1483.5,745.1 1497.1,740.1 1510.8,735.1 1524.5,730.2 1538.1,725.2 1551.8,720.3 1565.4,715.4 1579.1,710.5 1592.8,705.6 1606.4,700.7 1620.1,695.8 1633.8,691 1647.4,686.2 1661.1,681.4 1674.7,676.6 1688.4,671.8 1702.1,667.1 1715.7,662.4 1729.4,657.7 1743.1,653 1756.7,648.4 1770.4,643.8 1784,639.3 1797.7,634.8 1811.4,630.3 1825,625.9 1838.7,621.6 1852.4,617.4 1866,613.2 1879.7,609.2 1909.2,606.8 1942.5,604.6 1961.7,606.4 1981,608.2 2000.3,610.1 2019.6,611.9 2038.8,613.8 2058.1,615.6 2077.4,617.4 2096.7,619 2115.9,620.4 2135.2,621.7 2154.5,622.8 2173.7,623.6 2193,624.4 2212.3,625 2231.6,625.7 2250.8,626.4 2270.1,627 2289.4,627.5 2308.7,627.8 2327.9,627.9 2347.2,627.5 2366.5,626.7 2385.7,625 2405,622.2 2424.3,618.3 2443.6,613.3 2462.8,606.6 2435.2,617.5 2407.7,628.5 2380.1,639.4 2352.5,650.3 2324.9,661.3 2297.3,672.2 2269.7,683.1 2242.1,694.1 2214.5,705.1 2187,716 2159.4,727 2131.8,737.9 2104.2,748.9 2076.6,759.9 2049,770.9 2021.4,781.8 2001.7,787.9 1982,792.1 1962.3,795.2 1942.6,797.3 1922.9,798 1903.2,798 1883.5,797.4 1863.8,796.3 1844.1,795.1 1824.4,793.6 1804.7,792.2 1785,790.6 1765.3,789.3 1745.6,787.9 1725.9,786.5 1706.2,784.9 1686.5,783 1666.8,780.9 1647.1,778.5 1627.4,775.8 1607.7,772.8 1588,769.8 1568.3,766.7 1548.6,763.5 1528.9,760.3 1509.2,756.9 1489.5,753.5" fill="#363093" stroke="#363093"/>
<polygon points="1469.8,750.1 1483.5,745.1 1497.1,740.1 1510.8,735.1 1524.5,730.2 1538.1,725.2 1551.8,720.3 1565.4,715.4 1579.1,710.5 1592.8,705.6 1606.4,700.7 1620.1,695.8 1633.8,691 1647.4,686.2 1661.1,681.4 1674.7,676.6 1688.4,671.8 1702.1,667.1 1715.7,662.4 1729.4,657.7 1743.1,653 1756.7,648.4 1770.4,643.8 1784,639.3 1797.7,634.8 1811.4,630.3 1834.3,627.1 1869.8,625.4 1903.5,623.3 1935.4,620.9 1966,618.3 1995.5,615.4 2023.9,612.3 2043,614.2 2062.1,616 2081.2,617.7 2100.3,619.3 2119.3,620.7 2138.4,621.9 2157.5,622.9 2176.6,623.8 2195.7,624.5 2214.8,625.1 2233.8,625.8 2252.9,626.5 2272,627.1 2291.1,627.5 2310.2,627.9 2329.3,627.9 2348.3,627.5 2367.4,626.6 2386.5,624.9 2405.6,622.1 2424.7,618.3 2443.8,613.3 2462.8,606.6 2435.2,617.5 2407.7,628.5 2380.1,639.4 2352.5,650.3 2324.9,661.3 2297.3,672.2 2269.7,683.1 2242.1,694.1 2214.5,705.1 2187,716 2159.4,727 2131.8,737.9 2104.2,748.9 2076.6,759.9 2049,770.9 2021.4,781.8 2001.7,787.9 1982,792.1 1962.3,795.2 1942.6,797.3 1922.9,798 1903.2,798 1883.5,797.4 1863.8,796.3 1844.1,795.1 1824.4,793.6 1804.7,792.2 1785,790.6 1765.3,789.3 1745.6,787.9 1725.9,786.5 1706.2,784.9 1686.5,783 1666.8,780.9 1647.1,778.5 1627.4,775.8 1607.7,772.8 1588,769.8 1568.3,766.7 1548.6,763.5 1528.9,760.3 1509.2,756.9 1489.5,753.5" fill="#3637a0" stroke="#3637a0"/>
<polygon points="1469.8,750.1 1483.5,745.1 1497.1,740.1 1510.8,735.1 1524.5,730.2 1538.1,725.2 1551.8,720.3 1565.4,715.4 1579.1,710.5 1592.8,705.6 1606.4,700.7 1620.1,695.8 1633.8,691 1647.4,686.2 1661.1,681.4 1674.7,676.6 1688.4,671.8 1702.1,667.1 1715.7,662.4 1729.4,657.7 1751.8,654.3 1790.3,653.2 1825.8,651.4 1859,649.3 1890.4,646.8 1920.3,644.1 1949.1,641.1 1976.8,637.9 2003.6,634.6 2029.5,631 2054.3,627.3 2078.2,623.4 2101.4,619.4 2120.4,620.7 2139.4,621.9 2158.5,622.9 2177.5,623.8 2196.5,624.5 2215.5,625.1 2234.6,625.8 2253.6,626.5 2272.6,627.1 2291.6,627.6 2310.6,627.9 2329.7,627.9 2348.7,627.5 2367.7,626.6 2386.7,624.9 2405.8,622 2424.8,618.2 2443.8,613.3 2462.8,606.6 2435.2,617.5 2407.7,628.5 2380.1,639.4 2352.5,650.3 2324.9,661.3 2297.3,672.2 2269.7,683.1 2242.1,694.1 2214.5,705.1 2187,716 2159.4,727 2131.8,737.9 2104.2,748.9 2076.6,759.9 2049,770.9 2021.4,781.8 2001.7,787.9 1982,792.1 1962.3,795.2 1942.6,797.3 1922.9,798 1903.2,798 1883.5,797.4 1863.8,796.3 1844.1,795.1 1824.4,793.6 1804.7,792.2 1785,790.6 1765.3,789.3 1745.6,787.9 1725.9,786.5 1706.2,784.9 1686.5,783 1666.8,780.9 1647.1,778.5 1627.4,775.8 1607.7,772.8 1588,769.8 1568.3,766.7 1548.6,763.5 1528.9,760.3 1509.2,756.9 1489.5,753.5" fill="#353dad" stroke="#353dad"/>
<polygon points="1469.8,750.1 1483.5,745.1 1497.1,740.1 1510.8,735.1 1524.5,730.2 1538.1,725.2 1551.8,720.3 1565.4,715.4 1579.1,710.5 1592.8,705.6 1606.4,700.7 1620.1,695.8 1633.8,691 1665,689 1706.4,688.4 1743.3,687 1777.1,685 1808.7,682.6 1838.6,679.8 1867.2,676.8 1894.6,673.6 1920.9,670.2 1945.6,666.5 1969.4,662.5 1992.3,658.5 2014.6,654.3 2036.4,650 2057.8,645.7 2078.9,641.2 2099.6,636.8 2120.1,632.2 2140.4,627.7 2160.5,623 2179.4,623.9 2198.3,624.6 2217.2,625.2 2236.1,625.9 2255,626.5 2273.9,627.1 2292.7,627.6 2311.6,627.9 2330.5,627.9 2349.4,627.5 2368.3,626.6 2387.2,624.8 2406.1,622 2425,618.2 2443.9,613.2 2462.8,606.6 2435.2,617.5 2407.7,628.5 2380.1,639.4 2352.5,650.3 2324.9,661.3 2297.3,672.2 2269.7,683.1 2242.1,694.1 2214.5,705.1 2187,716 2159.4,727 2131.8,737.9 2104.2,748.9 2076.6,759.9 2049,770.9 2021.4,781.8 2001.7,787.9 1982,792.1 1962.3,795.2 1942.6,797.3 1922.9,798 1903.2,798 1883.5,797.4 1863.8,796.3 1844.1,795.1 1824.4,793.6 1804.7,792.2 1785,790.6 1765.3,789.3 1745.6,787.9 1725.9,786.5 1706.2,784.9 1686.5,783 1666.8,780.9 1647.1,778.5 1627.4,775.8 1607.7,772.8 1588,769.8 1568.3,766.7 1548.6,763.5 1528.9,760.3 1509.2,756.9 1489.5,753.5" fill="#3243ba" stroke="#3243ba"/>
<polygon points="1469.8,750.1 1483.5,745.1 1497.1,740.1 1510.8,735.1 1526.4,730.5 1579.5,732.2 1621.1,731.7 1657.4,730.2 1690.5,728.1 1721.2,725.6 1750.3,722.7 1778,719.5 1803.6,716 1827.8,712.2 1850.9,708.2 1873.2,704 1894.9,699.8 1916.2,695.4 1937,691 1957.6,686.5 1977.9,681.9 1997.9,677.3 2017.8,672.7 2037.4,668 2057,663.3 2076.4,658.6 2095.6,653.8 2114.8,649 2133.9,644.2 2153,639.4 2171.9,634.6 2190.8,629.8 2209.7,624.9 2229.2,625.6 2248.6,626.3 2268.1,626.9 2287.6,627.5 2307.1,627.8 2326.5,627.9 2346,627.6 2365.5,626.8 2384.9,625.1 2404.4,622.3 2423.9,618.4 2443.4,613.4 2462.8,606.6 2435.2,617.5 2407.7,628.5 2380.1,639.4 2352.5,650.3 2324.9,661.3 2297.3,672.2 2269.7,683.1 2242.1,694.1 2214.5,705.1 2187,716 2159.4,727 2131.8,737.9 2104.2,748.9 2076.6,759.9 2049,770.9 2021.4,781.8 2001.7,787.9 1982,792.1 1962.3,795.2 1942.6,797.3 1922.9,798 1903.2,798 1883.5,797.4 1863.8,796.3 1844.1,795.1 1824.4,793.6 1804.7,792.2 1785,790.6 1765.3,789.3 1745.6,787.9 1725.9,786.5 1706.2,784.9 1686.5,783 1666.8,780.9 1647.1,778.5 1627.4,775.8 1607.7,772.8 1588,769.8 1568.3,766.7 1548.6,763.5 1528.9,760.3 1509.2,756.9 1489.5,753.5" fill="#2c4ac7" stroke="#2c4ac7"/>
<polygon points="1626.6,775.7 1652.7,772.2 1676.8,768.4 1699.7,764.4 1721.8,760.2 1743.2,755.9 1764.1,751.5 1784.7,747 1804.9,742.5 1824.8,737.9 1844.6,733.2 1864.1,728.6 1883.5,723.8 1902.7,719.1 1921.8,714.3 1940.8,709.5 1959.7,704.7 1978.5,699.9 1997.3,695.1 2016,690.2 2034.7,685.3 2053.4,680.5 2072,675.6 2090.6,670.7 2109.3,665.8 2127.9,661 2146.6,656.1 2165.3,651.2 2184,646.3 2202.5,641.4 2221,636.5 2239.5,631.6 2257.8,626.6 2276.5,627.2 2295.1,627.6 2313.7,627.9 2332.4,627.9 2351,627.4 2369.6,626.5 2388.3,624.7 2406.9,621.8 2425.6,618.1 2444.2,613.1 2462.8,606.6 2435.2,617.5 2407.7,628.5 2380.1,639.4 2352.5,650.3 2324.9,661.3 2297.3,672.2 2269.7,683.1 2242.1,694.1 2214.5,705.1 2187,716 2159.4,727 2131.8,737.9 2104.2,748.9 2076.6,759.9 2049,770.9 2021.4,781.8 2002.6,787.6 1983.8,791.8 1965,794.8 1946.2,797 1927.4,798 1908.6,798 1889.8,797.6 1871,796.8 1852.2,795.6 1833.4,794.3 1814.6,792.9 1795.8,791.5 1777,790.1 1758.2,788.8 1739.4,787.5 1720.6,786.1 1701.8,784.5 1683,782.7 1664.2,780.6 1645.4,778.3" fill="#2053d4" stroke="#2053d4"/>
<polygon points="1718.1,785.9 1737,781.1 1755.7,776.3 1774.4,771.4 1793,766.6 1811.5,761.7 1830,756.8 1848.4,751.9 1866.9,747 1885.3,742.1 1903.6,737.2 1922,732.3 1940.5,727.4 1958.9,722.5 1977.4,717.6 1995.9,712.7 2014.6,707.8 2033.1,702.9 2051.7,698 2070.1,693.1 2088.5,688.2 2106.8,683.3 2125.1,678.3 2143.2,673.3 2161.3,668.3 2179.3,663.3 2197.3,658.3 2215.1,653.3 2232.9,648.2 2250.5,643.1 2268.1,638 2285.6,632.9 2303,627.8 2320.7,627.9 2338.5,627.8 2356.3,627.2 2374,626.2 2391.8,624.2 2409.5,621.3 2427.3,617.6 2445.1,612.9 2462.8,606.6 2435.2,617.5 2407.7,628.5 2380.1,639.4 2352.5,650.3 2324.9,661.3 2297.3,672.2 2269.7,683.1 2242.1,694.1 2214.5,705.1 2187,716 2159.4,727 2131.8,737.9 2104.2,748.9 2076.6,759.9 2049,770.9 2021.4,781.8 2002.5,787.7 1983.5,791.8 1964.6,794.9 1945.6,797 1926.6,798 1907.7,798 1888.7,797.6 1869.8,796.7 1850.8,795.5 1831.9,794.2 1812.9,792.8 1793.9,791.3 1775,789.9 1756,788.6 1737.1,787.3" fill="#0f5cdd" stroke="#0f5cdd"/>
<polygon points="1777.8,790.1 1796.1,785.2 1814.5,780.3 1832.9,775.4 1851.5,770.5 1870,765.6 1888.4,760.7 1906.8,755.8 1925.1,750.9 1943.4,745.9 1961.6,741 1979.7,736 1997.8,731 2015.8,726 2033.7,721 2051.6,716 2069.3,710.9 2087,705.9 2104.5,700.8 2122,695.7 2139.4,690.5 2156.7,685.4 2173.9,680.2 2191.1,675 2208.1,669.9 2225.1,664.6 2241.9,659.4 2258.7,654.2 2275.4,648.9 2292.1,643.6 2308.6,638.3 2325.1,633 2341.5,627.7 2358.8,627.1 2376.2,626 2393.5,624 2410.8,621.1 2428.2,617.4 2445.5,612.7 2462.8,606.6 2435.2,617.5 2407.7,628.5 2380.1,639.4 2352.5,650.3 2324.9,661.3 2297.3,672.2 2269.7,683.1 2242.1,694.1 2214.5,705.1 2187,716 2159.4,727 2131.8,737.9 2104.2,748.9 2076.6,759.9 2049,770.9 2021.4,781.8 2002.7,787.6 1984,791.8 1965.2,794.8 1946.5,797 1927.7,798 1909,798 1890.3,797.6 1871.5,796.8 1852.8,795.7 1834,794.4 1815.3,793 1796.6,791.5" fill="#0363e1" stroke="#0363e1"/>
<polygon points="1839.7,794.8 1857.6,789.8 1875.4,784.7 1893.1,779.7 1910.8,774.6 1928.3,769.5 1945.8,764.4 1963.1,759.3 1980.4,754.2 1997.6,749 2014.7,743.8 2031.7,738.6 2048.6,733.4 2065.4,728.2 2082.2,723 2098.8,717.7 2115.4,712.4 2131.9,707.1 2148.3,701.8 2164.7,696.5 2180.9,691.1 2197.2,685.8 2213.4,680.4 2229.5,675.1 2245.6,669.7 2261.7,664.3 2277.7,658.9 2293.7,653.5 2309.5,648.1 2325.4,642.6 2341.2,637.2 2356.9,631.7 2372.6,626.3 2390.7,624.4 2408.7,621.5 2426.7,617.8 2444.8,613 2462.8,606.6 2435.2,617.5 2407.7,628.5 2380.1,639.4 2352.5,650.3 2324.9,661.3 2297.3,672.2 2269.7,683.1 2242.1,694.1 2214.5,705.1 2187,716 2159.4,727 2131.8,737.9 2104.2,748.9 2076.6,759.9 2049,770.9 2021.4,781.8 2003.3,787.5 1985.1,791.6 1966.9,794.6 1948.8,796.8 1930.6,797.9 1912.4,798.1 1894.2,797.8 1876.1,797 1857.9,796" fill="#0268e1" stroke="#0268e1"/>
<polygon points="1892.7,797.7 1909.2,792.4 1925.7,787.1 1942.1,781.8 1958.5,776.5 1974.7,771.2 1991,765.8 2007.2,760.5 2023.3,755.1 2039.4,749.8 2055.4,744.4 2071.4,739 2087.3,733.6 2103.2,728.2 2119,722.7 2134.8,717.3 2150.5,711.9 2166.2,706.4 2181.8,700.9 2197.3,695.4 2212.9,689.9 2228.3,684.5 2243.8,678.9 2259.2,673.4 2274.5,667.9 2289.9,662.4 2305.2,656.9 2320.5,651.3 2335.7,645.8 2350.9,640.2 2366.2,634.7 2381.3,629.1 2396.5,623.6 2413.1,620.7 2429.7,617.1 2446.3,612.5 2462.8,606.6 2435.2,617.5 2407.7,628.5 2380.1,639.4 2352.5,650.3 2324.9,661.3 2297.3,672.2 2269.7,683.1 2242.1,694.1 2214.5,705.1 2187,716 2159.4,727 2131.8,737.9 2104.2,748.9 2076.6,759.9 2049,770.9 2021.4,781.8 2003,787.5 1984.6,791.6 1966.3,794.7 1947.9,796.8 1929.5,797.9 1911.1,798.1" fill="#046de0" stroke="#046de0"/>
<polygon points="1930.9,797.9 1946.5,792.4 1962.1,786.9 1977.6,781.5 1993.1,776 2008.5,770.5 2023.9,765 2039.2,759.4 2054.5,753.9 2069.8,748.4 2085.1,742.9 2100.3,737.3 2115.6,731.8 2130.7,726.2 2145.9,720.7 2161.1,715.1 2176.2,709.5 2191.3,704 2206.4,698.4 2221.4,692.8 2236.5,687.2 2251.5,681.7 2266.6,676.1 2281.6,670.5 2296.6,664.9 2311.6,659.3 2326.5,653.7 2341.5,648.1 2356.4,642.5 2371.4,636.9 2386.3,631.3 2401.2,625.7 2416.2,620.1 2431.7,616.6 2447.3,612.2 2462.8,606.6 2435.2,617.5 2407.7,628.5 2380.1,639.4 2352.5,650.3 2324.9,661.3 2297.3,672.2 2269.7,683.1 2242.1,694.1 2214.5,705.1 2187,716 2159.4,727 2131.8,737.9 2104.2,748.9 2076.6,759.9 2049,770.9 2021.4,781.8 2003.3,787.4 1985.2,791.5 1967.1,794.5 1949,796.7" fill="#0871de" stroke="#0871de"/>
<polygon points="1957.5,795.8 1972.5,790.3 1987.6,784.7 2002.6,779.1 2017.6,773.5 2032.6,767.9 2047.5,762.3 2062.5,756.7 2077.5,751.1 2092.4,745.5 2107.3,739.9 2122.2,734.3 2137.2,728.7 2152.1,723.1 2166.9,717.5 2181.8,711.9 2196.7,706.3 2211.6,700.7 2226.4,695 2241.3,689.4 2256.1,683.8 2271,678.2 2285.8,672.5 2300.6,666.9 2315.4,661.3 2330.2,655.6 2345,650 2359.8,644.4 2374.5,638.7 2389.3,633.1 2404,627.4 2418.8,621.8 2433.5,616.1 2448.2,611.9 2462.8,606.6 2435.2,617.5 2407.7,628.5 2380.1,639.4 2352.5,650.3 2324.9,661.3 2297.3,672.2 2269.7,683.1 2242.1,694.1 2214.5,705.1 2187,716 2159.4,727 2131.8,737.9 2104.2,748.9 2076.6,759.9 2049,770.9 2021.4,781.8 2005.4,786.9 1989.5,790.7 1973.5,793.6" fill="#0d75dc" stroke="#0d75dc"/>
<polygon points="1978.5,792.7 1993.3,787.1 2008.2,781.5 2023,775.9 2037.8,770.2 2052.6,764.6 2067.3,759 2082.1,753.3 2096.9,747.7 2111.6,742.1 2126.4,736.4 2141.1,730.8 2155.8,725.1 2170.5,719.5 2185.2,713.8 2199.9,708.2 2214.6,702.5 2229.3,696.9 2244,691.2 2258.6,685.5 2273.3,679.9 2287.9,674.2 2302.6,668.6 2317.2,662.9 2331.8,657.2 2346.4,651.5 2361,645.9 2375.6,640.2 2390.2,634.5 2404.8,628.8 2419.4,623.2 2433.9,617.5 2448.5,611.8 2462.8,606.6 2435.2,617.5 2407.7,628.5 2380.1,639.4 2352.5,650.3 2324.9,661.3 2297.3,672.2 2269.7,683.1 2242.1,694.1 2214.5,705.1 2187,716 2159.4,727 2131.8,737.9 2104.2,748.9 2076.6,759.9 2049,770.9 2021.4,781.8 2007.1,786.4 1992.8,790" fill="#1079da" stroke="#1079da"/>
<polygon points="1996.7,789.1 2011.3,783.4 2026,777.8 2040.6,772.1 2055.2,766.4 2069.8,760.8 2084.4,755.1 2099,749.4 2113.6,743.8 2128.1,738.1 2142.7,732.4 2157.3,726.7 2171.8,721 2186.4,715.4 2200.9,709.7 2215.4,704 2230,698.3 2244.5,692.6 2259,686.9 2273.5,681.2 2288,675.5 2302.5,669.8 2317,664.1 2331.5,658.4 2346,652.7 2360.4,647 2374.9,641.3 2389.4,635.6 2403.8,629.9 2418.3,624.2 2432.7,618.5 2447.2,612.8 2461.6,607.1 2462.8,606.6 2435.2,617.5 2407.7,628.5 2380.1,639.4 2352.5,650.3 2324.9,661.3 2297.3,672.2 2269.7,683.1 2242.1,694.1 2214.5,705.1 2187,716 2159.4,727 2131.8,737.9 2104.2,748.9 2076.6,759.9 2049,770.9 2021.4,781.8 2009.1,785.9" fill="#127dd8" stroke="#127dd8"/>
<polygon points="2012.1,784.9 2026.6,779.3 2041.1,773.6 2055.6,767.9 2070,762.2 2084.5,756.5 2098.9,750.8 2113.4,745.1 2127.8,739.4 2142.3,733.6 2156.7,727.9 2171.1,722.2 2185.6,716.5 2200,710.8 2214.4,705.1 2228.3,699.6 2242.1,694.1 2255.9,688.6 2269.7,683.1 2283.5,677.7 2297.3,672.2 2311.1,666.7 2324.9,661.3 2338.7,655.8 2352.5,650.3 2366.3,644.9 2380.1,639.4 2393.9,633.9 2407.7,628.5 2421.5,623 2435.2,617.5 2449,612.1 2462.8,606.6 2462.8,606.6 2435.2,617.5 2407.7,628.5 2380.1,639.4 2352.5,650.3 2324.9,661.3 2297.3,672.2 2269.7,683.1 2242.1,694.1 2214.5,705.1 2187,716 2159.4,727 2131.8,737.9 2104.2,748.9 2076.6,759.9 2049,770.9 2021.4,781.8" fill="#1481d6" stroke="#1481d6"/>
<polygon points="2023.2,781.2 2078.4,759.2 2133.5,737.3 2188.7,715.3 2243.9,693.4 2299.1,671.5 2354.3,649.6 2409.4,627.8 2464.6,605.9 2462.8,606.6 2407.7,628.5 2352.5,650.3 2297.3,672.2 2242.1,694.1 2187,716 2131.8,737.9 2076.6,759.9 2021.4,781.8" fill="#1481d6" stroke="#1481d6"/>
<polygon points="2025,780.5 2080.1,758.6 2135.3,736.6 2190.5,714.7 2245.7,692.7 2300.8,670.8 2356,648.9 2411.2,627 2466.4,605.2 2464.6,605.9 2409.4,627.8 2354.3,649.6 2299.1,671.5 2243.9,693.4 2188.7,715.3 2133.5,737.3 2078.4,759.2 2023.2,781.2" fill="#1481d6" stroke="#1481d6"/>
<polygon points="2026.7,779.9 2081.9,757.9 2137.1,735.9 2192.2,713.9 2247.4,692 2302.6,670.1 2357.8,648.2 2413,626.3 2468.1,604.4 2466.4,605.2 2411.2,627 2356,648.9 2300.8,670.8 2245.7,692.7 2190.5,714.7 2135.3,736.6 2080.1,758.6 2025,780.5" fill="#1485d4" stroke="#1485d4"/>
<polygon points="2028.5,779.2 2083.6,757.2 2138.8,735.2 2194,713.2 2249.2,691.3 2304.4,669.3 2359.6,647.4 2414.7,625.5 2469.9,603.6 2468.1,604.4 2413,626.3 2357.8,648.2 2302.6,670.1 2247.4,692 2192.2,713.9 2137.1,735.9 2081.9,757.9 2026.7,779.9" fill="#1485d4" stroke="#1485d4"/>
<polygon points="2030.2,778.4 2085.4,756.4 2140.6,734.4 2195.8,712.5 2251,690.5 2306.1,668.6 2361.3,646.6 2416.5,624.7 2471.7,602.8 2469.9,603.6 2414.7,625.5 2359.6,647.4 2304.4,669.3 2249.2,691.3 2194,713.2 2138.8,735.2 2083.6,757.2 2028.5,779.2" fill="#1485d4" stroke="#1485d4"/>
<polygon points="2032,777.7 2087.2,755.7 2142.4,733.7 2197.5,711.7 2252.7,689.7 2307.9,667.8 2363.1,645.8 2418.3,623.9 2473.5,602 2471.7,602.8 2416.5,624.7 2361.3,646.6 2306.1,668.6 2251,690.5 2195.8,712.5 2140.6,734.4 2085.4,756.4 2030.2,778.4" fill="#1485d4" stroke="#1485d4"/>
<polygon points="2033.7,776.9 2088.9,754.9 2144.1,732.9 2199.3,710.9 2254.5,688.9 2309.7,667 2364.9,645 2420,623.1 2475.2,601.1 2473.5,602 2418.3,623.9 2363.1,645.8 2307.9,667.8 2252.7,689.7 2197.5,711.7 2142.4,733.7 2087.2,755.7 2032,777.7" fill="#1485d4" stroke="#1485d4"/>
<polygon points="2035.5,776.1 2090.7,754.1 2145.9,732.1 2201.1,710.1 2256.2,688.1 2311.4,666.1 2366.6,644.1 2421.8,622.2 2477,600.3 2475.2,601.1 2420,623.1 2364.9,645 2309.7,667 2254.5,688.9 2199.3,710.9 2144.1,732.9 2088.9,754.9 2033.7,776.9" fill="#1485d4" stroke="#1485d4"/>
<polygon points="2037.3,775.3 2092.4,753.3 2147.6,731.3 2202.8,709.2 2258,687.2 2313.2,665.2 2368.4,643.3 2423.6,621.3 2478.8,599.4 2477,600.3 2421.8,622.2 2366.6,644.1 2311.4,666.1 2256.2,688.1 2201.1,710.1 2145.9,732.1 2090.7,754.1 2035.5,776.1" fill="#1389d3" stroke="#1389d3"/>
<polygon points="2039,774.5 2094.2,752.4 2149.4,730.4 2204.6,708.4 2259.8,686.3 2315,664.3 2370.2,642.4 2425.4,620.4 2480.5,598.4 2478.8,599.4 2423.6,621.3 2368.4,643.3 2313.2,665.2 2258,687.2 2202.8,709.2 2147.6,731.3 2092.4,753.3 2037.3,775.3" fill="#1389d3" stroke="#1389d3"/>
<polygon points="2040.8,773.6 2096,751.5 2151.2,729.5 2206.3,707.5 2261.5,685.4 2316.7,663.4 2371.9,641.4 2427.1,619.4 2482.3,597.5 2480.5,598.4 2425.4,620.4 2370.2,642.4 2315,664.3 2259.8,686.3 2204.6,708.4 2149.4,730.4 2094.2,752.4 2039,774.5" fill="#1389d3" stroke="#1389d3"/>
<polygon points="2042.5,772.7 2097.7,750.6 2152.9,728.6 2208.1,706.5 2263.3,684.5 2318.5,662.5 2373.7,640.4 2428.9,618.4 2484.1,596.5 2482.3,597.5 2427.1,619.4 2371.9,641.4 2316.7,663.4 2261.5,685.4 2206.3,707.5 2151.2,729.5 2096,751.5 2040.8,773.6" fill="#1389d3" stroke="#1389d3"/>
<polygon points="2044.3,771.7 2099.5,749.7 2154.7,727.6 2209.9,705.5 2265.1,683.5 2320.3,661.5 2375.5,639.4 2430.7,617.4 2485.9,595.4 2484.1,596.5 2428.9,618.4 2373.7,640.4 2318.5,662.5 2263.3,684.5 2208.1,706.5 2152.9,728.6 2097.7,750.6 2042.5,772.7" fill="#1389d3" stroke="#1389d3"/>
<polygon points="2046,770.8 2101.2,748.7 2156.4,726.6 2211.6,704.5 2266.8,682.5 2322,660.4 2377.2,638.4 2432.4,616.4 2487.6,594.4 2485.9,595.4 2430.7,617.4 2375.5,639.4 2320.3,661.5 2265.1,683.5 2209.9,705.5 2154.7,727.6 2099.5,749.7 2044.3,771.7" fill="#1389d3" stroke="#1389d3"/>
<polygon points="2047.8,769.7 2103,747.6 2158.2,725.5 2213.4,703.5 2268.6,681.4 2323.8,659.3 2379,637.3 2434.2,615.3 2489.4,593.3 2487.6,594.4 2432.4,616.4 2377.2,638.4 2322,660.4 2266.8,682.5 2211.6,704.5 2156.4,726.6 2101.2,748.7 2046,770.8" fill="#108ed2" stroke="#108ed2"/>
<polygon points="2049.6,768.7 2104.8,746.6 2160,724.5 2215.2,702.4 2270.4,680.3 2325.6,658.2 2380.8,636.2 2436,614.1 2491.2,592.1 2489.4,593.3 2434.2,615.3 2379,637.3 2323.8,659.3 2268.6,681.4 2213.4,703.5 2158.2,725.5 2103,747.6 2047.8,769.7" fill="#108ed2" stroke="#108ed2"/>
<polygon points="2051.3,767.6 2106.5,745.4 2161.7,723.3 2216.9,701.2 2272.1,679.1 2327.3,657.1 2382.5,635 2437.7,612.9 2492.9,590.9 2491.2,592.1 2436,614.1 2380.8,636.2 2325.6,658.2 2270.4,680.3 2215.2,702.4 2160,724.5 2104.8,746.6 2049.6,768.7" fill="#108ed2" stroke="#108ed2"/>
<polygon points="2053.1,766.4 2108.3,744.3 2163.5,722.1 2218.7,700 2273.9,677.9 2329.1,655.8 2384.3,633.8 2439.5,611.7 2494.7,589.6 2492.9,590.9 2437.7,612.9 2382.5,635 2327.3,657.1 2272.1,679.1 2216.9,701.2 2161.7,723.3 2106.5,745.4 2051.3,767.6" fill="#108ed2" stroke="#108ed2"/>
<polygon points="2054.8,765.2 2110,743 2165.2,720.9 2220.5,698.8 2275.7,676.7 2330.9,654.6 2386.1,632.5 2441.3,610.4 2496.5,588.3 2494.7,589.6 2439.5,611.7 2384.3,633.8 2329.1,655.8 2273.9,677.9 2218.7,700 2163.5,722.1 2108.3,744.3 2053.1,766.4" fill="#108ed2" stroke="#108ed2"/>
<polygon points="2056.6,763.9 2111.8,741.7 2167,719.6 2222.2,697.5 2277.4,675.4 2332.6,653.2 2387.8,631.1 2443,609.1 2498.3,587 2496.5,588.3 2441.3,610.4 2386.1,632.5 2330.9,654.6 2275.7,676.7 2220.5,698.8 2165.2,720.9 2110,743 2054.8,765.2" fill="#0c93d2" stroke="#0c93d2"/>
<polygon points="2058.3,762.6 2113.6,740.4 2168.8,718.3 2224,696.1 2279.2,674 2334.4,651.9 2389.6,629.8 2444.8,607.7 2500,585.6 2498.3,587 2443,609.1 2387.8,631.1 2332.6,653.2 2277.4,675.4 2222.2,697.5 2167,719.6 2111.8,741.7 2056.6,763.9" fill="#0c93d2" stroke="#0c93d2"/>
<polygon points="2060.1,761.2 2115.3,739 2170.5,716.9 2225.7,694.7 2281,672.6 2336.2,650.5 2391.4,628.3 2446.6,606.2 2501.8,584.1 2500,585.6 2444.8,607.7 2389.6,629.8 2334.4,651.9 2279.2,674 2224,696.1 2168.8,718.3 2113.6,740.4 2058.3,762.6" fill="#0c93d2" stroke="#0c93d2"/>
<polygon points="2061.9,759.8 2117.1,737.6 2172.3,715.4 2227.5,693.3 2282.7,671.1 2337.9,649 2393.1,626.8 2448.4,604.7 2503.6,582.6 2501.8,584.1 2446.6,606.2 2391.4,628.3 2336.2,650.5 2281,672.6 2225.7,694.7 2170.5,716.9 2115.3,739 2060.1,761.2" fill="#0c93d2" stroke="#0c93d2"/>
<polygon points="2063.6,758.3 2118.8,736.1 2174.1,713.9 2229.3,691.7 2284.5,669.6 2339.7,647.4 2394.9,625.3 2450.1,603.1 2505.3,581 2503.6,582.6 2448.4,604.7 2393.1,626.8 2337.9,649 2282.7,671.1 2227.5,693.3 2172.3,715.4 2117.1,737.6 2061.9,759.8" fill="#0998d1" stroke="#0998d1"/>
<polygon points="2065.4,756.7 2120.6,734.5 2175.8,712.3 2231,690.1 2286.2,668 2341.5,645.8 2396.7,623.6 2451.9,601.5 2507.1,579.4 2505.3,581 2450.1,603.1 2394.9,625.3 2339.7,647.4 2284.5,669.6 2229.3,691.7 2174.1,713.9 2118.8,736.1 2063.6,758.3" fill="#0998d1" stroke="#0998d1"/>
<polygon points="2067.1,755.1 2122.4,732.9 2177.6,710.7 2232.8,688.5 2288,666.3 2343.2,644.1 2398.4,621.9 2453.7,599.8 2508.9,577.6 2507.1,579.4 2451.9,601.5 2396.7,623.6 2341.5,645.8 2286.2,668 2231,690.1 2175.8,712.3 2120.6,734.5 2065.4,756.7" fill="#0998d1" stroke="#0998d1"/>
<polygon points="2068.9,753.3 2124.1,731.1 2179.3,708.9 2234.6,686.7 2289.8,664.5 2345,642.3 2400.2,620.2 2455.4,598 2510.7,575.8 2508.9,577.6 2453.7,599.8 2398.4,621.9 2343.2,644.1 2288,666.3 2232.8,688.5 2177.6,710.7 2122.4,732.9 2067.1,755.1" fill="#0998d1" stroke="#0998d1"/>
<polygon points="2070.7,751.5 2125.9,729.3 2181.1,707.1 2236.3,684.9 2291.5,662.7 2346.8,640.5 2402,618.3 2457.2,596.1 2512.4,573.9 2510.7,575.8 2455.4,598 2400.2,620.2 2345,642.3 2289.8,664.5 2234.6,686.7 2179.3,708.9 2124.1,731.1 2068.9,753.3" fill="#079ccf" stroke="#079ccf"/>
<polygon points="2072.4,749.6 2127.6,727.4 2182.9,705.1 2238.1,682.9 2293.3,660.7 2348.5,638.5 2403.7,616.3 2459,594.1 2514.2,571.9 2512.4,573.9 2457.2,596.1 2402,618.3 2346.8,640.5 2291.5,662.7 2236.3,684.9 2181.1,707.1 2125.9,729.3 2070.7,751.5" fill="#079ccf" stroke="#079ccf"/>
<polygon points="2074.2,747.6 2129.4,725.3 2184.6,703.1 2239.8,680.8 2295.1,658.6 2350.3,636.4 2405.5,614.2 2460.7,592 2516,569.8 2514.2,571.9 2459,594.1 2403.7,616.3 2348.5,638.5 2293.3,660.7 2238.1,682.9 2182.9,705.1 2127.6,727.4 2072.4,749.6" fill="#079ccf" stroke="#079ccf"/>
<polygon points="2075.9,745.4 2131.2,723.2 2186.4,700.9 2241.6,678.7 2296.8,656.4 2352.1,634.2 2407.3,612 2462.5,589.8 2517.7,567.5 2516,569.8 2460.7,592 2405.5,614.2 2350.3,636.4 2295.1,658.6 2239.8,680.8 2184.6,703.1 2129.4,725.3 2074.2,747.6" fill="#06a0cd" stroke="#06a0cd"/>
<polygon points="2077.7,743.1 2132.9,720.8 2188.1,698.6 2243.4,676.3 2298.6,654.1 2353.8,631.8 2409.1,609.6 2464.3,587.4 2519.5,565.2 2517.7,567.5 2462.5,589.8 2407.3,612 2352.1,634.2 2296.8,656.4 2241.6,678.7 2186.4,700.9 2131.2,723.2 2075.9,745.4" fill="#06a0cd" stroke="#06a0cd"/>
<polygon points="2079.4,740.7 2134.7,718.4 2189.9,696.1 2245.1,673.8 2300.4,651.6 2355.6,629.3 2410.8,607.1 2466,584.9 2521.3,562.6 2519.5,565.2 2464.3,587.4 2409.1,609.6 2353.8,631.8 2298.6,654.1 2243.4,676.3 2188.1,698.6 2132.9,720.8 2077.7,743.1" fill="#06a4ca" stroke="#06a4ca"/>
<polygon points="2081.2,738 2136.4,715.7 2191.7,693.5 2246.9,671.2 2302.1,648.9 2357.4,626.7 2412.6,604.4 2467.8,582.2 2523.1,559.9 2521.3,562.6 2466,584.9 2410.8,607.1 2355.6,629.3 2300.4,651.6 2245.1,673.8 2189.9,696.1 2134.7,718.4 2079.4,740.7" fill="#06a4ca" stroke="#06a4ca"/>
<polygon points="2083,735.2 2138.2,712.9 2193.4,690.6 2248.7,668.3 2303.9,646.1 2359.1,623.8 2414.4,601.5 2469.6,579.3 2524.8,557 2523.1,559.9 2467.8,582.2 2412.6,604.4 2357.4,626.7 2302.1,648.9 2246.9,671.2 2191.7,693.5 2136.4,715.7 2081.2,738" fill="#06a4ca" stroke="#06a4ca"/>
<polygon points="2084.7,732.2 2139.9,709.9 2195.2,687.6 2250.4,665.3 2305.7,643 2360.9,620.7 2416.1,598.5 2471.4,576.2 2526.6,553.9 2524.8,557 2469.6,579.3 2414.4,601.5 2359.1,623.8 2303.9,646.1 2248.7,668.3 2193.4,690.6 2138.2,712.9 2083,735.2" fill="#06a7c6" stroke="#06a7c6"/>
<polygon points="2086.5,729 2141.7,706.7 2196.9,684.3 2252.2,662 2307.4,639.7 2362.7,617.5 2417.9,595.2 2473.1,572.9 2528.4,550.6 2526.6,553.9 2471.4,576.2 2416.1,598.5 2360.9,620.7 2305.7,643 2250.4,665.3 2195.2,687.6 2139.9,709.9 2084.7,732.2" fill="#06a7c6" stroke="#06a7c6"/>
<polygon points="2088.2,725.5 2143.5,703.2 2198.7,680.9 2253.9,658.5 2309.2,636.2 2364.4,613.9 2419.7,591.7 2474.9,569.4 2530.1,547.1 2528.4,550.6 2473.1,572.9 2417.9,595.2 2362.7,617.5 2307.4,639.7 2252.2,662 2196.9,684.3 2141.7,706.7 2086.5,729" fill="#07a9c2" stroke="#07a9c2"/>
<polygon points="2090,721.8 2145.2,699.4 2200.5,677.1 2255.7,654.8 2310.9,632.5 2366.2,610.2 2421.4,587.9 2476.7,565.6 2531.9,543.3 2530.1,547.1 2474.9,569.4 2419.7,591.7 2364.4,613.9 2309.2,636.2 2253.9,658.5 2198.7,680.9 2143.5,703.2 2088.2,725.5" fill="#0aacbe" stroke="#0aacbe"/>
<polygon points="2091.7,717.7 2147,695.4 2202.2,673 2257.5,650.7 2312.7,628.4 2368,606.1 2423.2,583.8 2478.4,561.5 2533.7,539.2 2531.9,543.3 2476.7,565.6 2421.4,587.9 2366.2,610.2 2310.9,632.5 2255.7,654.8 2200.5,677.1 2145.2,699.4 2090,721.8" fill="#0aacbe" stroke="#0aacbe"/>
<polygon points="2093.5,713.3 2148.7,691 2204,668.6 2259.2,646.3 2314.5,624 2369.7,601.7 2425,579.3 2480.2,557 2535.4,534.7 2533.7,539.2 2478.4,561.5 2423.2,583.8 2368,606.1 2312.7,628.4 2257.5,650.7 2202.2,673 2147,695.4 2091.7,717.7" fill="#0faeb9" stroke="#0faeb9"/>
<polygon points="2095.3,708.6 2150.5,686.2 2205.8,663.9 2261,641.5 2316.2,619.2 2371.5,596.9 2426.7,574.5 2482,552.2 2537.2,529.9 2535.4,534.7 2480.2,557 2425,579.3 2369.7,601.7 2314.5,624 2259.2,646.3 2204,668.6 2148.7,691 2093.5,713.3" fill="#15b1b4" stroke="#15b1b4"/>
<polygon points="2097,703.4 2152.3,681 2207.5,658.7 2262.8,636.3 2318,614 2373.3,591.6 2428.5,569.3 2483.7,547 2539,524.7 2537.2,529.9 2482,552.2 2426.7,574.5 2371.5,596.9 2316.2,619.2 2261,641.5 2205.8,663.9 2150.5,686.2 2095.3,708.6" fill="#15b1b4" stroke="#15b1b4"/>
<polygon points="2098.8,697.7 2154,675.3 2209.3,653 2264.5,630.6 2319.8,608.3 2375,585.9 2430.3,563.6 2485.5,541.3 2540.8,518.9 2539,524.7 2483.7,547 2428.5,569.3 2373.3,591.6 2318,614 2262.8,636.3 2207.5,658.7 2152.3,681 2097,703.4" fill="#1db3af" stroke="#1db3af"/>
<polygon points="2100.5,691.4 2155.8,669 2211,646.6 2266.3,624.3 2321.5,601.9 2376.8,579.6 2432,557.2 2487.3,534.9 2542.5,512.6 2540.8,518.9 2485.5,541.3 2430.3,563.6 2375,585.9 2319.8,608.3 2264.5,630.6 2209.3,653 2154,675.3 2098.8,697.7" fill="#25b5a9" stroke="#25b5a9"/>
<polygon points="2102.3,684.2 2157.5,661.9 2212.8,639.5 2268,617.2 2323.3,594.8 2378.5,572.4 2433.8,550.1 2489.1,527.8 2544.3,505.4 2542.5,512.6 2487.3,534.9 2432,557.2 2376.8,579.6 2321.5,601.9 2266.3,624.3 2211,646.6 2155.8,669 2100.5,691.4" fill="#2eb7a4" stroke="#2eb7a4"/>
<polygon points="2104,676.3 2159.3,653.9 2214.6,631.6 2269.8,609.2 2325.1,586.8 2380.3,564.5 2435.6,542.1 2490.8,519.8 2546.1,497.5 2544.3,505.4 2489.1,527.8 2433.8,550.1 2378.5,572.4 2323.3,594.8 2268,617.2 2212.8,639.5 2157.5,661.9 2102.3,684.2" fill="#38b99e" stroke="#38b99e"/>
<polygon points="2105.8,667.5 2161.1,645.1 2216.3,622.7 2271.6,600.4 2326.8,578 2382.1,555.7 2437.3,533.3 2492.6,511 2547.8,488.6 2546.1,497.5 2490.8,519.8 2435.6,542.1 2380.3,564.5 2325.1,586.8 2269.8,609.2 2214.6,631.6 2159.3,653.9 2104,676.3" fill="#4dbc92" stroke="#4dbc92"/>
<polygon points="2107.6,657.7 2162.8,635.3 2218.1,613 2273.3,590.6 2328.6,568.2 2383.8,545.9 2439.1,523.5 2494.4,501.2 2549.6,478.9 2547.8,488.6 2492.6,511 2437.3,533.3 2382.1,555.7 2326.8,578 2271.6,600.4 2216.3,622.7 2161.1,645.1 2105.8,667.5" fill="#59bd8c" stroke="#59bd8c"/>
<polygon points="2109.3,647 2164.6,624.6 2219.8,602.3 2275.1,579.9 2330.4,557.6 2385.6,535.2 2440.9,512.9 2496.1,490.5 2551.4,468.2 2549.6,478.9 2494.4,501.2 2439.1,523.5 2383.8,545.9 2328.6,568.2 2273.3,590.6 2218.1,613 2162.8,635.3 2107.6,657.7" fill="#71bf80" stroke="#71bf80"/>
<polygon points="2111.1,635 2166.3,612.6 2221.6,590.2 2276.9,567.9 2332.1,545.5 2387.4,523.2 2442.6,500.8 2497.9,478.5 2553.2,456.1 2551.4,468.2 2496.1,490.5 2440.9,512.9 2385.6,535.2 2330.4,557.6 2275.1,579.9 2219.8,602.3 2164.6,624.6 2109.3,647" fill="#7cbf7b" stroke="#7cbf7b"/>
<polygon points="2112.8,621.6 2168.1,599.3 2223.4,576.9 2278.6,554.6 2333.9,532.2 2389.1,509.8 2444.4,487.5 2499.7,465.2 2554.9,442.8 2553.2,456.1 2497.9,478.5 2442.6,500.8 2387.4,523.2 2332.1,545.5 2276.9,567.9 2221.6,590.2 2166.3,612.6 2111.1,635" fill="#92bf73" stroke="#92bf73"/>
<polygon points="2114.6,608.2 2169.9,585.9 2225.1,563.5 2280.4,541.2 2335.6,518.8 2390.9,496.5 2446.2,474.1 2501.4,451.8 2556.7,429.4 2554.9,442.8 2499.7,465.2 2444.4,487.5 2389.1,509.8 2333.9,532.2 2278.6,554.6 2223.4,576.9 2168.1,599.3 2112.8,621.6" fill="#a5be6b" stroke="#a5be6b"/>
<polygon points="2116.4,595 2171.6,572.6 2226.9,550.3 2282.1,527.9 2337.4,505.5 2392.7,483.2 2447.9,460.8 2503.2,438.5 2558.5,416.1 2556.7,429.4 2501.4,451.8 2446.2,474.1 2390.9,496.5 2335.6,518.8 2280.4,541.2 2225.1,563.5 2169.9,585.9 2114.6,608.2" fill="#b7bd64" stroke="#b7bd64"/>
<polygon points="2118.1,582.1 2173.4,559.8 2228.6,537.4 2283.9,515 2339.2,492.6 2394.4,470.3 2449.7,447.9 2505,425.5 2560.2,403.2 2558.5,416.1 2503.2,438.5 2447.9,460.8 2392.7,483.2 2337.4,505.5 2282.1,527.9 2226.9,550.3 2171.6,572.6 2116.4,595" fill="#c8bc5d" stroke="#c8bc5d"/>
<polygon points="2119.9,567.8 2175.1,545.5 2230.4,523.1 2285.7,500.7 2340.9,478.3 2396.2,455.9 2451.5,433.6 2506.7,411.2 2562,388.8 2560.2,403.2 2505,425.5 2449.7,447.9 2394.4,470.3 2339.2,492.6 2283.9,515 2228.6,537.4 2173.4,559.8 2118.1,582.1" fill="#d9ba56" stroke="#d9ba56"/>
<polygon points="2121.6,551.1 2176.9,528.7 2232.2,506.3 2287.4,483.9 2342.7,461.5 2398,439.1 2453.2,416.8 2508.5,394.4 2563.8,372 2562,388.8 2506.7,411.2 2451.5,433.6 2396.2,455.9 2340.9,478.3 2285.7,500.7 2230.4,523.1 2175.1,545.5 2119.9,567.8" fill="#e9b94e" stroke="#e9b94e"/>
<polygon points="2123.4,529.1 2178.7,506.7 2233.9,484.3 2289.2,461.9 2344.5,439.5 2399.7,417.1 2455,394.7 2510.3,372.4 2565.6,350 2563.8,372 2508.5,394.4 2453.2,416.8 2398,439.1 2342.7,461.5 2287.4,483.9 2232.2,506.3 2176.9,528.7 2121.6,551.1" fill="#ffc337" stroke="#ffc337"/>
<polygon points="2125.1,500.7 2180.4,478.4 2235.7,456 2291,433.6 2346.2,411.2 2401.5,388.8 2456.8,366.5 2512.1,344.1 2567.3,321.7 2565.6,350 2510.3,372.4 2455,394.7 2399.7,417.1 2344.5,439.5 2289.2,461.9 2233.9,484.3 2178.7,506.7 2123.4,529.1" fill="#f7d826" stroke="#f7d826"/>
<polygon points="2126.9,460 2182.2,437.6 2237.5,415.2 2292.7,392.9 2348,370.5 2403.3,348.2 2458.6,325.9 2513.8,303.5 2569.1,281.2 2567.3,321.7 2512.1,344.1 2456.8,366.5 2401.5,388.8 2346.2,411.2 2291,433.6 2235.7,456 2180.4,478.4 2125.1,500.7" fill="#f9fb0e" stroke="#f9fb0e"/>
</g>
<line x1="1469.8" y1="803.2" x2="1469.8" y2="248.7" stroke="#5e5e5e" stroke-width="2.3"/>
<line x1="1469.8" y1="803.2" x2="2126.9" y2="927.6" stroke="#2b2b2b" stroke-width="1.7" stroke-dasharray="3.8 1.9"/>
<line x1="2126.9" y1="927.6" x2="2569.1" y2="740.5" stroke="#2b2b2b" stroke-width="1.7" stroke-dasharray="3.8 1.9"/>
<g font-family="'Liberation Sans',sans-serif" font-size="34.5" fill="#303030">
<line x1="1469.8" y1="803.2" x2="1455.6" y2="800.5" stroke="#2b2b2b" stroke-width="1.7"/>
<text x="1438.8" y="813.7" text-anchor="end">0</text>
<line x1="1469.8" y1="710.8" x2="1455.6" y2="708.1" stroke="#2b2b2b" stroke-width="1.7"/>
<text x="1438.8" y="721.3" text-anchor="end">0.2</text>
<line x1="1469.8" y1="618.4" x2="1455.6" y2="615.7" stroke="#2b2b2b" stroke-width="1.7"/>
<text x="1438.8" y="628.9" text-anchor="end">0.4</text>
<line x1="1469.8" y1="525.9" x2="1455.6" y2="523.2" stroke="#2b2b2b" stroke-width="1.7"/>
<text x="1438.8" y="536.4" text-anchor="end">0.6</text>
<line x1="1469.8" y1="433.5" x2="1455.6" y2="430.8" stroke="#2b2b2b" stroke-width="1.7"/>
<text x="1438.8" y="444" text-anchor="end">0.8</text>
<line x1="1469.8" y1="341.1" x2="1455.6" y2="338.4" stroke="#2b2b2b" stroke-width="1.7"/>
<text x="1438.8" y="351.6" text-anchor="end">1</text>
<line x1="1469.8" y1="248.7" x2="1455.6" y2="246" stroke="#2b2b2b" stroke-width="1.7"/>
<text x="1438.8" y="259.2" text-anchor="end">1.2</text>
<line x1="2126.9" y1="927.6" x2="2113.5" y2="933.2" stroke="#2b2b2b" stroke-width="1.7"/>
<text x="2097.4" y="973.9" text-anchor="end">0</text>
<line x1="1962.6" y1="896.5" x2="1949.3" y2="902.1" stroke="#2b2b2b" stroke-width="1.7"/>
<text x="1933.1" y="942.8" text-anchor="end">100</text>
<line x1="1798.4" y1="865.4" x2="1785" y2="871" stroke="#2b2b2b" stroke-width="1.7"/>
<text x="1768.9" y="911.7" text-anchor="end">200</text>
<line x1="1634.1" y1="834.3" x2="1620.7" y2="839.9" stroke="#2b2b2b" stroke-width="1.7"/>
<text x="1604.6" y="880.6" text-anchor="end">300</text>
<line x1="1469.8" y1="803.2" x2="1456.4" y2="808.8" stroke="#2b2b2b" stroke-width="1.7"/>
<text x="1440.3" y="849.5" text-anchor="end">400</text>
<line x1="2126.9" y1="927.6" x2="2141.1" y2="930.3" stroke="#2b2b2b" stroke-width="1.7"/>
<text x="2155.4" y="969.3" text-anchor="start">0</text>
<line x1="2348" y1="834.1" x2="2362.2" y2="836.8" stroke="#2b2b2b" stroke-width="1.7"/>
<text x="2374.9" y="875.8" text-anchor="start">200</text>
</g>
</g>
<g font-family="'Liberation Serif',serif" font-style="italic" fill="#111">
<text transform="translate(41,487) skewX(-8)" font-size="54">&#958;</text>
<text x="282.5" y="929.5" font-size="54">c</text>
<text x="1034" y="939.5" font-size="53">m</text>
<text x="1290" y="528.5" font-size="55">&#969;</text>
<text x="1325" y="540.5" font-size="30">D</text>
<text x="1651.5" y="955.5" font-size="54">c</text>
<text x="2448.5" y="911" font-size="53">m</text>
</g>
<g font-family="'Liberation Serif',serif" fill="#111" font-size="28">
<text x="1072.5" y="953">3</text>
<text x="2487" y="924.7" font-size="31">3</text>
</g>
<g fill="#111">
<rect x="283.2" y="896" width="28.7" height="3.2"/>
<rect x="1043.5" y="907.4" width="27.5" height="2.6"/>
<rect x="1652" y="923" width="29.6" height="2.6"/>
<rect x="2457.9" y="878.8" width="27.1" height="2.6"/>
</g>
<g font-family="'Liberation Serif',serif" font-size="72" text-anchor="middle" fill="#000">
<text x="596.5" y="1118.8">(a)</text>
<text x="1895.5" y="1118.8">(b)</text>
</g>
</svg>
</body></html>
